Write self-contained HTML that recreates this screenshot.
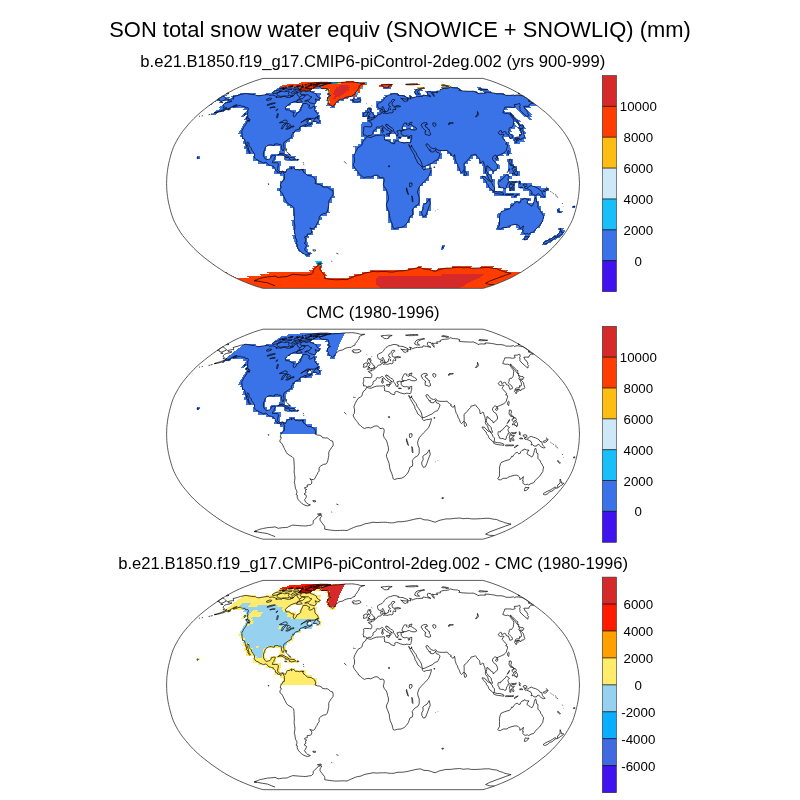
<!DOCTYPE html>
<html><head><meta charset="utf-8"><title>SON total snow water equiv</title>
<style>
html,body{margin:0;padding:0;background:#fff;}
body{width:800px;height:800px;overflow:hidden;}
svg{display:block;}
text{font-family:"Liberation Sans",Arial,Helvetica,sans-serif;fill:#000;text-anchor:middle;}
.t1{font-size:21.6px;}
.t2{font-size:16.2px;}
.cb{font-size:13.3px;}
.coast{fill:none;stroke:#000;stroke-width:0.7;stroke-linejoin:round;}
.frame{fill:none;stroke:#333;stroke-width:0.8;}
</style></head><body>
<svg width="800" height="800" viewBox="0 0 800 800">
<defs>
<path id="land" d="M227.5 99.7L230.0 99.2L232.4 98.7L233.6 99.1L233.6 98.1L233.0 96.7L237.9 95.4L240.4 94.5L243.1 94.0L245.9 93.4L247.4 93.7L248.9 94.0L250.2 94.2L251.5 94.5L253.4 94.6L255.3 94.7L256.2 95.3L257.5 95.6L258.8 95.9L261.1 95.4L263.1 95.1L265.0 94.8L268.1 94.3L269.4 95.4L271.2 95.2L273.0 95.0L274.2 95.5L275.3 96.0L277.1 96.8L275.8 97.3L278.0 97.2L280.1 97.1L281.4 97.6L282.5 96.4L284.5 96.5L285.8 96.9L287.1 97.4L290.2 97.3L291.6 96.5L293.8 95.4L294.8 93.8L296.9 92.8L297.2 94.3L297.6 95.4L298.4 95.9L299.2 96.5L299.2 97.6L302.3 95.2L305.2 95.2L304.8 96.5L302.3 98.7L299.1 98.9L297.4 100.1L296.4 101.0L293.6 101.8L290.3 103.3L287.7 105.1L285.4 107.5L285.9 109.9L288.3 109.9L289.8 110.5L291.8 112.0L294.2 112.2L293.2 114.8L293.4 116.3L294.2 117.0L296.0 115.4L297.0 112.9L299.6 111.7L300.7 110.5L301.0 108.1L302.4 105.7L303.2 103.4L305.0 103.5L306.7 103.5L308.3 104.8L309.7 105.1L308.7 107.5L309.7 108.3L311.9 107.7L314.1 105.8L314.8 108.3L314.9 110.5L315.7 112.0L317.5 113.6L318.3 115.4L318.1 116.7L316.8 116.9L314.4 118.3L311.8 118.4L308.4 118.3L306.9 118.3L305.5 119.4L302.8 121.3L300.8 122.6L303.5 120.8L306.4 119.7L308.4 119.6L308.3 120.4L306.9 121.1L307.2 122.4L307.2 123.4L308.6 123.9L310.0 124.1L312.0 122.6L311.7 123.6L310.4 124.5L307.5 125.5L305.1 126.8L304.5 126.2L306.5 124.5L304.1 124.9L304.0 125.4L301.7 126.2L300.1 126.7L299.3 128.1L299.7 129.0L298.0 129.5L295.3 130.3L295.0 130.7L294.4 132.0L293.3 132.8L293.0 132.0L293.0 133.5L291.5 135.2L291.2 135.4L291.5 136.5L291.4 137.6L290.0 138.2L288.3 139.3L287.0 140.2L285.7 141.1L284.3 142.0L283.5 143.7L283.8 146.3L284.1 148.5L283.4 150.5L282.5 150.6L282.0 149.3L281.3 147.2L281.7 145.6L280.5 144.2L278.8 144.6L277.9 143.8L276.2 143.9L274.5 144.1L274.4 145.4L273.1 145.4L271.6 144.9L269.4 144.9L268.1 145.4L265.5 147.2L264.6 149.5L263.6 152.2L263.3 154.4L263.7 156.3L264.7 158.4L265.7 159.2L266.3 159.7L268.5 159.2L269.9 158.9L270.7 158.0L271.3 156.1L273.6 155.4L275.2 155.4L275.4 156.3L274.3 158.0L273.9 159.7L273.1 160.6L272.3 162.7L273.8 162.8L275.5 162.7L277.2 162.8L278.5 163.9L278.0 166.5L277.6 168.4L277.7 169.7L278.8 171.0L279.9 171.8L281.6 171.3L282.8 171.0L284.4 172.2L285.2 173.0L286.2 171.2L286.8 169.7L287.7 168.9L289.8 168.7L291.0 167.5L291.9 167.3L291.2 169.1L292.0 168.8L293.2 167.5L294.9 168.8L295.4 169.7L297.7 169.6L299.4 170.1L301.1 169.5L302.3 169.5L302.4 170.4L303.3 171.0L303.5 172.3L305.0 173.0L306.1 174.3L307.7 175.6L310.0 175.7L311.7 176.2L313.4 177.3L314.6 178.2L315.7 181.1L315.1 183.4L317.6 184.3L319.1 184.3L322.0 185.7L322.6 186.9L325.4 187.2L327.1 187.0L328.9 188.2L330.6 189.8L332.6 190.3L333.2 192.8L333.0 195.1L331.3 197.1L330.3 198.8L329.2 200.3L328.7 202.3L328.8 204.9L328.4 206.8L327.9 209.4L327.0 212.0L325.9 213.3L323.7 213.5L322.1 214.4L321.0 214.9L319.5 216.3L319.0 217.9L319.2 220.2L317.9 221.8L317.0 223.8L316.0 225.3L314.9 227.7L313.6 228.8L311.9 228.7L309.8 227.9L311.3 229.6L311.8 230.9L311.5 232.9L310.2 233.8L307.1 234.2L307.4 236.1L304.6 236.8L305.1 238.3L306.7 238.7L305.5 239.6L305.9 241.9L304.0 243.2L306.3 244.7L306.4 245.7L305.6 247.6L304.6 248.9L305.3 250.8L306.1 251.3L306.4 251.8L307.8 253.2L310.4 254.1L309.4 254.6L307.7 255.1L306.1 254.8L303.8 253.9L301.6 252.4L299.9 250.8L298.3 248.9L297.1 246.4L297.4 244.4L296.1 243.8L296.9 241.9L296.8 240.0L295.6 238.0L295.1 235.5L294.9 233.5L294.3 231.8L294.6 229.6L295.0 227.0L294.5 223.8L294.1 221.2L294.3 218.6L294.3 215.9L294.1 213.3L294.0 210.1L293.6 207.4L292.1 205.9L289.7 204.6L287.6 203.3L286.3 201.6L285.0 199.0L283.7 196.4L282.7 194.1L281.6 192.3L280.0 191.2L279.9 189.3L281.0 187.8L281.4 186.7L280.3 186.4L280.5 184.7L281.1 183.3L281.3 182.4L282.5 181.7L282.8 180.1L284.2 179.9L284.5 178.2L284.3 176.2L284.4 174.5L283.9 174.0L283.5 172.6L282.2 171.7L281.2 172.7L281.1 173.8L280.4 173.5L279.3 172.7L278.1 172.6L277.3 172.3L277.5 171.4L276.3 170.9L275.2 170.4L275.3 168.9L274.4 168.0L273.4 166.6L273.4 166.1L271.7 166.0L270.6 165.4L269.0 165.2L268.1 164.4L266.6 162.6L265.3 162.3L263.5 163.0L261.4 162.0L260.0 161.5L258.0 160.1L256.1 159.4L255.1 158.4L254.2 156.8L254.7 155.4L254.2 153.5L252.9 151.5L251.6 149.9L251.4 148.2L250.1 146.9L249.1 145.6L249.0 143.0L247.4 142.0L246.9 143.7L247.6 145.6L248.1 146.9L248.5 148.9L249.1 150.9L249.7 151.9L250.3 153.2L249.7 153.6L249.1 152.7L248.0 151.1L248.0 149.3L246.5 147.9L246.1 147.2L246.8 146.3L245.8 144.3L245.4 142.4L245.1 141.0L244.5 139.1L242.5 138.5L242.4 137.2L242.1 135.5L242.1 134.2L241.8 132.0L241.9 130.8L243.1 128.8L243.5 127.5L245.5 124.9L246.5 123.2L247.5 120.6L249.1 120.8L249.0 121.7L250.0 119.8L249.6 119.2L248.8 118.2L247.5 117.3L247.9 115.4L247.4 114.2L247.9 112.7L247.6 111.7L248.4 108.7L247.7 107.5L245.8 108.1L245.0 106.5L242.9 106.3L241.4 106.0L240.3 105.3L238.1 105.7L237.0 106.3L235.0 106.9L233.0 107.1L235.1 105.7L237.2 104.8L234.8 105.3L231.7 106.9L229.8 108.1L226.8 109.3L222.7 110.9L219.2 112.0L216.6 112.6L214.6 112.8L217.6 111.7L220.1 111.1L224.4 109.3L227.0 107.8L225.3 108.1L223.0 107.8L224.3 106.5L223.0 105.7L223.6 104.5L224.8 103.3L226.8 102.6L229.6 102.1L232.0 101.0L230.7 101.0L228.5 101.0L228.2 100.2Z M319.4 86.4L322.0 85.6L324.5 84.8L327.6 83.7L329.6 83.4L331.7 83.1L333.1 83.0L334.5 82.9L336.0 82.8L337.4 82.8L338.8 82.7L340.3 82.6L341.7 82.4L343.2 82.3L344.6 82.1L346.1 82.0L347.4 82.0L348.8 82.0L350.1 81.9L351.5 81.9L352.9 81.9L354.1 82.1L355.4 82.3L356.7 82.5L358.0 82.7L359.2 83.1L360.5 83.5L361.9 83.5L363.3 83.5L364.7 83.5L362.8 84.1L360.9 84.8L359.1 86.1L359.0 88.1L357.6 89.6L356.8 91.1L355.3 92.7L355.0 94.3L352.3 95.4L351.2 96.5L349.5 96.6L347.8 96.8L345.0 97.6L342.9 99.1L340.1 99.6L338.1 100.4L336.7 102.1L334.8 103.9L333.7 106.0L332.2 106.4L331.1 105.4L329.1 104.7L328.5 102.7L327.9 101.0L327.3 99.3L327.9 97.0L330.6 95.6L328.3 94.3L329.2 92.7L328.8 91.1L328.4 89.3L326.6 88.6L324.7 88.6L322.8 88.6L320.9 88.1L320.1 87.3Z M394.0 93.6L395.8 93.8L398.5 94.5L397.8 95.2L400.4 95.5L403.0 95.7L404.9 96.5L406.8 97.3L408.2 98.1L407.8 98.9L405.7 99.1L403.0 98.7L401.2 98.5L400.7 98.1L402.9 99.8L403.5 101.0L405.6 101.6L406.3 101.0L408.0 100.8L407.5 99.3L409.4 98.7L410.9 99.1L410.4 97.0L409.4 96.4L411.8 97.0L412.7 98.3L413.6 97.4L415.5 96.9L417.4 96.5L418.8 96.7L421.1 96.3L422.5 96.5L423.0 95.0L424.8 95.3L426.6 95.6L429.0 96.1L430.6 96.7L430.5 95.9L428.4 95.2L427.4 93.8L427.5 91.8L428.4 91.4L430.9 91.8L432.0 93.8L433.6 95.9L434.2 96.5L434.0 94.8L432.1 92.2L434.1 92.7L435.5 92.4L437.7 92.7L436.5 91.1L438.5 91.0L440.5 90.8L440.2 89.6L441.6 89.1L443.0 88.6L444.4 88.5L445.8 88.4L447.2 88.3L448.5 88.1L449.4 87.5L450.2 86.9L453.4 87.8L455.4 87.9L457.5 88.1L460.0 89.1L458.8 90.3L461.7 90.8L463.9 91.0L466.1 91.1L468.2 91.2L470.3 91.3L471.7 91.2L473.2 91.1L477.4 92.9L478.0 93.8L479.8 93.2L482.1 93.1L483.8 93.2L485.5 93.2L484.9 92.2L486.9 92.2L489.0 92.3L491.6 92.7L494.2 93.1L497.3 93.9L499.1 93.8L500.9 93.8L504.2 94.4L505.9 95.3L507.9 95.3L509.8 95.4L512.0 95.2L513.5 94.8L514.8 95.9L515.9 95.0L518.4 95.0L520.7 95.5L523.1 95.9L526.5 98.1L529.8 100.4L529.3 101.0L528.1 100.8L531.7 102.4L533.5 103.3L531.2 103.3L530.1 104.1L529.0 105.1L529.0 106.3L527.0 106.3L525.0 106.3L523.8 106.4L524.7 108.1L524.9 108.9L527.1 110.5L526.8 111.1L528.0 112.3L527.5 113.6L528.7 114.8L528.1 115.7L527.9 117.3L524.8 114.8L522.0 112.3L519.9 109.9L520.0 108.3L519.6 106.3L520.2 105.7L519.9 103.9L519.6 103.3L518.4 103.8L517.2 104.3L514.3 104.5L515.2 106.9L512.6 107.5L509.8 107.0L507.3 107.0L504.8 107.1L504.3 108.9L503.5 110.5L502.8 112.7L505.8 113.6L507.5 113.3L510.3 114.5L511.3 116.7L512.9 118.6L513.8 120.4L513.6 122.4L513.3 124.9L512.9 125.8L511.5 127.7L510.1 127.3L509.4 128.2L509.0 129.4L509.5 130.3L508.0 131.7L509.7 133.2L511.7 135.2L512.6 137.0L512.4 137.7L511.0 138.2L509.8 138.5L509.2 136.5L508.4 134.3L506.7 134.2L506.0 133.2L505.8 132.0L504.5 131.5L502.5 132.5L501.9 132.9L501.3 130.7L500.4 130.3L499.4 131.6L498.1 132.6L498.8 133.7L500.4 134.8L502.0 134.2L504.1 134.7L503.0 135.9L502.1 137.6L503.6 139.1L505.1 141.1L506.6 142.4L506.8 143.2L505.6 143.9L507.4 144.6L507.5 146.6L506.8 148.2L506.4 150.2L505.4 151.5L504.0 152.8L501.9 153.8L500.7 154.4L498.3 155.4L497.0 156.1L497.2 157.0L496.3 155.4L494.9 155.1L493.4 156.3L492.5 158.0L492.5 159.3L494.2 161.5L496.1 162.8L497.2 165.2L497.6 167.1L497.3 168.6L495.5 169.9L494.9 170.9L493.2 172.1L492.9 170.4L492.0 169.9L490.5 169.1L489.8 167.6L488.0 166.9L487.8 165.8L486.8 166.0L486.8 167.8L486.2 169.7L486.4 171.4L487.5 172.3L488.0 174.0L489.1 174.5L490.3 175.6L491.3 176.9L491.5 178.8L492.2 180.1L492.5 181.6L491.6 181.6L489.4 179.9L488.4 178.2L487.9 176.2L487.1 174.7L485.6 173.0L485.3 171.7L485.6 169.7L485.2 167.8L484.7 165.4L483.9 163.9L483.7 161.9L482.6 161.3L481.8 162.2L481.1 162.8L479.9 162.6L479.9 160.6L479.4 158.9L478.4 157.6L476.8 156.2L476.3 155.0L475.4 154.0L474.5 154.4L472.9 155.0L471.8 155.1L470.8 155.5L470.7 156.7L469.9 157.5L468.9 158.3L467.4 160.4L466.2 161.8L465.1 162.6L464.0 163.5L464.1 165.8L464.2 167.8L464.1 170.0L463.2 171.3L462.4 171.8L461.6 172.9L460.4 171.7L459.4 168.7L458.1 166.5L457.4 164.1L456.3 162.6L455.5 160.0L455.1 158.4L454.9 156.1L454.5 154.5L454.0 156.1L452.6 156.3L450.4 154.5L451.5 154.1L449.7 152.8L448.5 152.2L447.8 151.0L447.1 150.3L444.9 150.6L442.2 150.6L439.9 150.5L437.6 150.1L436.3 148.5L435.5 148.0L433.8 148.8L431.9 148.2L430.1 147.1L429.1 145.6L428.0 144.1L426.8 143.8L425.9 144.3L426.0 145.1L426.9 146.7L428.3 148.5L428.9 149.3L429.4 150.6L430.1 149.4L430.6 150.6L430.5 151.6L432.3 152.0L433.9 151.8L435.4 149.9L435.8 149.2L435.9 150.9L436.7 152.2L438.6 152.7L440.1 154.1L439.2 156.7L438.2 158.7L437.4 160.0L435.8 160.4L434.1 161.4L432.2 163.1L429.8 164.1L427.6 165.2L424.2 166.7L422.5 166.9L421.9 164.5L421.4 162.2L420.2 160.0L418.6 157.6L417.0 155.4L416.1 152.8L414.6 150.9L413.0 148.5L411.8 146.8L411.6 145.0L411.0 147.2L409.5 145.8L408.9 144.5L408.7 144.9L409.5 146.7L410.8 148.9L412.7 152.2L414.6 155.4L415.1 158.0L416.5 160.0L417.8 163.2L419.6 164.5L422.2 167.1L422.4 168.4L423.8 169.9L426.6 168.8L428.9 168.7L431.4 167.9L431.2 169.7L430.2 173.0L428.5 176.9L425.7 180.1L423.5 182.1L421.2 184.7L419.4 186.7L418.2 189.5L417.6 191.9L418.1 194.5L419.2 197.3L419.2 202.3L417.8 204.9L414.8 206.6L413.0 208.8L412.2 210.1L412.8 212.7L412.4 215.3L409.8 216.6L409.3 218.6L408.3 221.2L406.5 223.8L404.1 226.1L401.2 227.5L397.4 227.8L394.6 228.7L393.0 227.9L392.7 225.7L391.7 222.5L390.2 219.2L389.5 215.9L389.2 212.7L387.4 208.1L386.4 205.5L386.6 203.6L388.4 199.7L388.4 196.4L387.6 193.8L387.0 191.2L386.2 189.3L384.2 186.7L383.3 184.3L383.9 182.1L384.2 179.8L383.9 178.2L382.7 177.4L381.0 177.7L379.9 177.8L378.7 176.0L377.0 175.1L374.7 175.3L373.0 176.1L370.7 177.2L369.0 176.8L366.7 176.9L364.4 177.7L362.5 176.6L360.4 174.7L358.7 173.5L357.8 171.7L356.2 169.7L354.8 168.0L353.9 166.5L353.1 164.3L354.3 162.6L354.6 159.3L354.4 158.0L353.9 156.1L355.1 152.8L356.5 150.2L358.0 147.6L360.3 146.3L362.0 145.0L362.4 143.0L363.2 140.8L365.4 139.1L366.5 136.8L367.3 136.7L369.8 137.4L371.4 137.4L373.0 136.5L376.2 135.4L379.4 135.2L382.1 135.2L383.7 134.8L384.8 135.2L384.1 136.5L384.9 138.5L384.0 139.3L385.2 140.2L387.2 140.6L389.7 141.3L390.3 142.5L392.8 143.6L394.4 143.8L394.9 143.0L394.8 141.3L396.4 140.6L398.1 141.0L400.4 142.1L403.2 142.8L404.8 143.0L406.4 142.4L408.4 142.6L410.3 142.8L410.9 142.0L411.1 140.4L411.7 138.5L411.7 136.5L411.9 135.6L410.6 135.6L409.6 136.3L408.0 136.4L406.3 135.5L405.8 136.1L404.2 135.9L403.0 135.5L402.2 135.0L401.0 133.3L401.4 132.0L400.7 131.3L402.0 130.8L403.6 130.7L403.7 129.8L406.1 129.8L408.0 128.8L409.6 128.8L411.3 129.7L413.0 130.0L415.1 130.0L416.6 129.3L416.2 127.9L414.5 126.8L412.7 125.7L411.3 124.9L411.3 123.6L412.1 122.2L411.1 122.4L409.2 123.0L408.8 124.1L410.5 124.5L409.3 124.9L408.1 125.7L407.4 124.9L406.3 124.3L407.2 123.5L405.6 123.0L404.3 123.1L403.5 124.5L402.7 126.2L402.1 127.5L402.0 128.4L402.6 129.4L403.5 129.8L402.4 130.0L401.5 130.6L400.7 131.0L400.4 130.4L398.8 130.3L398.2 131.3L397.1 130.8L397.2 132.2L398.0 133.3L398.6 134.2L397.6 134.6L397.9 135.9L397.0 135.9L396.3 135.5L395.8 134.3L395.4 133.3L394.4 132.0L393.5 130.7L393.4 129.1L392.3 128.1L390.7 127.2L389.0 126.2L388.2 124.8L387.0 125.0L387.0 124.1L385.7 124.5L385.7 125.8L387.0 126.7L387.8 128.2L389.7 128.9L390.9 130.0L392.5 131.1L390.9 130.8L390.6 131.7L391.2 132.6L390.2 133.9L389.7 133.8L390.0 132.6L389.5 131.3L388.3 130.4L386.6 129.7L385.6 128.8L384.5 128.1L383.7 126.8L383.1 126.1L382.1 125.7L380.8 126.4L379.8 127.2L378.2 127.0L377.1 126.8L376.2 127.5L376.3 128.8L375.3 129.7L373.8 130.3L372.8 132.0L373.2 133.0L372.3 134.2L370.9 135.5L368.2 135.6L367.2 136.4L366.2 135.7L365.5 135.0L363.6 135.2L363.6 133.3L362.9 132.9L363.7 130.7L363.8 128.8L363.4 127.5L364.7 126.6L366.8 126.7L369.4 126.8L371.1 127.0L371.8 125.5L371.9 123.9L370.8 122.2L368.7 121.3L368.3 120.6L370.0 120.1L371.4 120.3L371.2 118.9L371.8 119.3L373.2 119.2L374.5 118.4L374.7 117.4L376.4 116.8L377.1 116.0L377.7 114.8L378.8 114.3L380.0 114.2L381.2 113.8L381.5 112.9L380.8 111.7L380.7 109.9L382.2 109.3L382.8 109.0L382.7 110.5L383.2 110.9L382.4 112.0L382.5 112.6L383.5 113.2L383.6 113.6L384.8 113.2L386.0 113.1L386.8 113.7L388.4 113.2L390.3 112.6L391.0 113.1L392.0 112.9L393.1 112.1L392.9 110.5L393.2 109.3L394.1 109.0L394.9 109.9L395.7 109.9L395.7 108.3L394.8 107.8L394.7 107.2L396.0 106.9L398.8 106.9L400.7 106.4L399.5 106.0L398.5 105.6L396.7 105.8L395.8 106.1L394.1 106.4L392.6 105.7L392.2 104.5L392.0 103.0L392.7 102.1L394.4 100.6L395.1 100.1L394.2 99.6L392.4 99.5L391.7 100.4L391.5 101.6L390.3 102.4L389.1 103.3L388.5 104.5L388.6 105.4L389.9 106.0L390.4 106.9L389.6 107.2L388.6 108.1L388.5 109.3L388.2 110.7L386.8 111.1L386.6 111.8L385.4 111.8L385.0 110.9L384.2 109.3L383.7 108.1L383.2 107.3L382.7 106.5L382.5 107.3L381.4 108.1L380.0 108.7L378.4 107.9L377.9 106.9L377.6 105.7L377.5 104.1L378.4 103.2L380.1 102.4L381.8 101.7L382.6 100.8L383.7 99.8L384.1 98.7L385.3 97.6L386.0 96.7L387.6 95.9L388.7 95.0L390.7 94.6L392.2 94.0Z M222.9 95.9L224.2 96.7L224.8 97.4L225.5 98.1L226.6 99.2L222.2 101.1L221.2 101.2L219.3 100.6L219.1 99.3L217.0 99.8Z M535.6 197.3L536.4 199.7L536.4 202.0L538.0 202.9L537.9 204.9L537.9 207.5L538.8 208.7L540.2 209.7L540.8 212.0L542.0 213.3L542.4 214.6L543.7 216.2L543.1 218.6L542.8 220.8L541.2 223.1L539.6 225.5L537.4 227.4L535.5 229.4L533.6 232.0L531.0 232.7L528.4 234.3L527.5 233.3L525.6 233.9L523.8 233.3L522.8 232.2L523.3 230.0L522.4 229.8L522.9 228.7L523.4 225.8L521.7 227.7L519.8 228.8L519.9 227.4L519.3 226.1L518.4 225.2L516.5 224.4L514.3 224.5L510.7 225.5L508.1 226.4L507.1 227.5L503.3 227.5L500.4 229.1L498.5 228.8L497.7 228.1L499.5 225.1L499.5 222.9L499.5 219.9L499.4 217.3L499.8 215.3L500.6 212.7L501.0 211.8L502.8 211.0L504.7 210.2L507.1 209.4L509.4 208.9L511.1 206.8L511.5 205.5L512.8 205.9L513.6 204.2L515.6 202.3L517.4 201.5L518.6 202.9L520.1 202.7L520.9 200.7L522.0 199.5L524.0 199.0L524.3 198.1L526.8 199.3L529.0 199.3L527.7 201.0L526.9 202.9L528.4 204.0L530.4 205.3L531.9 206.3L533.2 204.2L534.0 201.6L534.4 199.7L535.2 197.7Z M525.4 236.4L527.0 236.9L529.0 236.6L527.9 238.3L526.1 239.7L524.4 240.0L524.5 238.7Z M560.2 228.2L560.8 230.0L561.5 231.1L561.2 232.3L563.3 232.3L563.8 232.5L561.8 234.4L560.7 234.7L559.7 235.8L556.7 237.5L556.4 237.1L557.9 235.7L557.4 234.6L559.0 233.5L560.2 231.6L560.0 229.4Z M555.1 236.1L556.1 237.0L553.2 239.3L551.9 240.4L549.8 241.0L547.6 243.0L545.5 243.9L544.3 243.9L543.1 243.2L544.7 241.9L547.2 240.6L550.4 239.2L552.6 237.8Z M429.2 199.0L430.3 203.6L429.4 205.5L428.2 208.8L426.8 212.7L425.5 215.9L423.4 216.6L421.9 214.0L421.7 211.4L423.2 208.8L422.8 205.5L424.6 204.0L426.9 202.7L428.2 200.7Z M464.3 170.6L465.9 172.3L466.7 174.3L465.7 175.6L464.7 175.6L464.2 173.6L464.2 171.7Z M368.2 107.9L370.2 107.9L369.3 109.2L371.1 109.0L370.9 110.5L369.9 111.1L371.5 112.0L372.8 113.6L373.3 114.8L374.7 115.2L374.5 116.8L373.5 116.8L374.4 117.2L373.3 117.7L371.0 117.8L369.5 118.2L367.3 118.6L368.6 117.0L370.0 116.8L367.9 116.3L368.9 115.0L369.9 114.4L370.1 113.3L369.6 112.6L368.2 112.6L368.4 111.6L367.3 110.5L367.8 109.3Z M367.1 112.1L367.7 113.1L367.1 114.4L366.8 115.8L364.8 116.4L363.2 116.4L363.8 114.8L363.4 113.3L365.0 112.8L365.4 112.1Z M353.7 98.8L355.8 99.3L357.5 98.9L359.3 98.7L360.5 99.3L361.1 100.4L359.8 101.2L357.1 102.1L354.9 102.0L353.2 101.6L353.8 100.6L352.1 100.4L352.4 99.5Z M380.9 85.2L383.0 84.8L384.4 84.7L385.8 84.6L387.2 84.5L388.5 84.3L390.4 84.5L392.2 84.6L390.3 85.4L388.3 86.1L389.3 87.1L388.0 87.5L386.5 87.9L384.2 87.6L382.9 86.4Z M405.5 84.3L406.8 84.2L408.1 84.0L409.7 83.9L411.2 83.8L412.7 83.7L414.2 83.7L415.6 83.7L417.0 83.7L418.2 84.3L416.9 84.5L415.6 84.6L414.3 84.8L412.9 84.8L411.5 84.8L410.1 84.9L408.3 84.8L406.4 84.7Z M414.7 93.2L416.7 94.1L419.6 94.2L417.6 92.7L417.3 91.3L418.9 90.1L420.0 89.5L421.1 88.9L422.9 88.5L424.7 88.1L423.9 87.6L422.7 87.9L421.4 88.2L419.7 88.5L418.0 88.8L416.0 89.9L415.1 91.6Z M441.6 85.5L442.8 84.8L445.6 85.2L448.6 85.9L448.6 86.4L447.3 86.5L445.9 86.6L445.5 85.7L444.1 85.8L442.8 85.9Z M478.8 89.6L479.5 88.6L481.3 88.8L483.2 89.0L485.4 89.2L487.7 89.4L486.1 89.8L484.5 89.8L483.0 89.8L480.9 90.0Z M518.2 93.6L518.7 93.2L519.8 93.9Z M227.3 93.2L229.0 93.4L227.9 93.9L226.2 93.9Z M510.3 113.2L512.2 114.8L514.6 117.3L516.8 119.4L517.8 119.8L517.7 121.7L519.1 123.2L518.1 123.6L516.3 121.1L514.4 118.6L512.1 116.0L510.7 114.2Z M518.4 124.3L521.1 125.8L523.0 125.8L524.1 127.1L522.8 127.6L522.8 128.8L520.6 128.1L520.1 129.4L518.9 128.1L518.9 127.1L519.7 126.8Z M521.3 129.5L523.5 132.0L523.8 133.5L524.2 135.2L524.8 136.9L524.2 137.8L523.1 138.2L521.4 138.4L521.3 138.7L520.9 139.8L519.9 139.4L519.3 138.4L517.7 138.6L516.5 138.9L515.2 139.1L514.9 138.5L516.2 137.3L517.5 137.0L519.6 136.9L519.5 135.0L519.9 134.6L520.2 135.5L521.3 134.8L521.5 133.3L521.1 131.6L520.5 130.6L520.4 129.8Z M515.3 139.3L516.4 139.8L516.9 141.1L516.6 142.6L515.9 142.8L515.2 141.3L514.4 140.4L514.7 139.7Z M516.8 139.1L518.6 138.7L519.3 139.4L518.9 140.0L518.0 140.7L517.1 139.9Z M508.5 150.5L509.1 150.9L509.0 152.8L508.6 154.8L507.7 153.7L507.5 152.4L508.0 150.9Z M495.6 158.3L496.4 157.4L497.9 157.4L497.7 158.9L496.7 159.7L495.7 159.2Z M509.2 159.3L511.0 159.3L511.5 161.3L510.9 162.8L511.4 164.9L512.9 165.4L514.2 166.5L514.2 167.0L513.0 166.5L512.3 165.4L511.0 165.7L510.1 164.9L510.3 164.1L509.5 163.9L508.9 162.3L509.3 161.3Z M516.3 170.6L517.4 172.3L517.7 174.3L517.2 175.2L516.6 176.0L516.3 174.5L514.9 174.9L514.8 173.6L513.7 173.6L512.6 174.3L512.5 173.0L513.6 172.2L514.7 172.5L515.6 171.7Z M513.7 167.1L515.6 167.1L516.4 168.8L515.7 170.1L515.0 169.3L514.6 170.4L513.8 171.3L512.9 170.6L512.2 169.7L512.1 168.0L513.2 168.4Z M507.0 172.5L507.8 171.4L508.8 170.0L509.4 168.7L509.2 170.0L508.2 171.7L507.3 172.6Z M498.0 181.4L498.7 180.8L500.3 181.3L500.7 180.0L502.5 179.1L503.6 177.5L505.3 176.2L506.5 174.4L507.5 174.9L508.1 176.1L509.5 176.6L508.4 177.8L507.9 178.7L508.3 180.4L509.5 182.1L508.1 182.4L507.8 184.1L506.6 185.4L506.3 187.3L505.9 188.6L504.4 188.6L503.1 187.7L501.4 187.8L499.3 187.2L499.1 185.4L498.0 184.1L498.0 182.7Z M482.1 176.1L484.7 176.6L485.6 177.9L487.3 179.2L488.2 180.5L489.6 180.8L491.1 182.4L492.1 183.4L492.8 185.4L494.5 187.3L494.4 189.3L494.1 191.0L492.8 191.0L492.1 189.9L490.2 188.6L488.8 186.9L488.0 184.7L486.5 183.0L486.2 181.2L484.8 180.1L483.6 178.6L482.3 176.9Z M493.4 192.3L494.4 191.1L497.2 191.9L499.8 191.9L501.9 192.5L503.9 193.4L503.8 194.6L501.6 194.3L498.8 193.9L496.5 193.6L494.8 193.0Z M510.4 182.4L511.5 181.7L514.1 182.1L516.3 181.3L515.8 182.7L514.1 182.9L511.8 182.9L510.8 184.4L512.3 184.7L514.4 184.6L513.8 185.7L512.5 186.0L513.4 188.0L514.1 189.3L513.3 190.3L512.5 189.5L511.7 187.3L511.0 187.3L510.9 190.6L509.8 190.6L509.9 188.0L509.3 186.9L509.8 185.0Z M523.2 184.4L525.0 183.9L526.7 184.4L526.8 186.7L527.7 187.7L529.5 186.3L531.2 185.5L533.5 186.5L535.2 186.9L537.5 188.0L539.1 189.0L540.0 190.6L541.9 191.2L542.1 192.5L542.5 194.1L543.8 195.5L545.1 196.8L543.6 197.1L541.4 196.4L540.4 195.1L538.8 193.6L537.0 194.2L536.4 195.4L534.1 195.2L532.5 193.9L531.0 194.2L531.8 192.5L531.0 190.6L528.8 189.4L526.5 188.5L525.2 188.6L524.3 187.2L526.0 186.7L524.3 186.0L523.1 185.2Z M514.0 196.8L515.8 195.1L518.2 194.3L517.5 195.1L515.7 196.2L514.5 196.8Z M505.6 194.3L507.3 194.1L509.0 194.3L511.3 194.2L513.6 194.1L513.6 194.7L511.3 195.0L509.0 194.9L506.7 195.1L505.5 195.0Z M519.2 180.8L519.8 181.4L520.6 182.1L519.8 183.0L520.3 184.3L519.5 183.8L519.3 182.1Z M519.7 187.3L522.0 187.2L522.9 188.0L521.4 188.0L519.7 188.0Z M543.0 190.7L544.8 189.9L546.6 188.9L547.5 189.0L547.1 190.3L545.3 191.5L543.6 191.5Z M277.7 154.9L280.0 153.5L282.3 153.3L284.4 154.2L286.5 155.3L288.0 156.4L289.4 157.1L288.5 157.5L285.5 157.5L286.1 156.6L284.7 156.1L283.1 155.1L281.0 154.2L279.3 154.6Z M289.0 159.2L290.4 157.5L292.2 157.6L294.1 157.8L295.8 159.2L294.5 159.6L292.8 159.7L291.9 160.4L290.9 159.7L289.4 159.7Z M284.6 159.4L286.2 159.4L286.9 160.0L285.4 160.2Z M297.1 159.3L298.8 159.4L298.6 160.0L297.0 160.0Z M318.4 116.5L317.3 118.6L319.1 119.2L319.7 120.4L319.7 121.7L318.6 122.7L317.2 122.4L316.4 121.6L313.1 121.6L314.4 119.8L316.2 117.8Z M314.2 103.9L312.2 103.3L309.8 102.8L309.0 101.8L307.7 101.0L304.7 101.2L307.0 100.1L309.3 99.8L310.3 98.1L311.9 97.0L310.1 96.5L308.3 94.8L305.3 94.9L302.9 94.8L300.9 94.3L300.1 93.8L300.6 92.7L302.4 91.1L305.5 90.8L305.7 91.8L309.3 90.9L311.0 91.7L312.9 92.4L314.7 93.2L316.7 94.5L316.7 95.9L318.7 97.6L320.4 98.5L317.8 100.1L316.8 99.5L315.0 98.9L316.1 101.0L316.2 102.4Z M297.4 100.2L300.3 99.6L301.5 101.1L302.2 101.8L299.5 102.3L297.5 102.5L296.2 101.9L297.5 101.2Z M276.8 94.6L278.2 95.7L279.5 96.0L280.9 96.4L282.7 96.2L284.5 96.0L286.2 96.0L287.8 96.0L289.6 95.0L288.3 93.8L289.4 91.8L287.5 91.4L284.6 91.8L283.5 91.5L282.3 91.1L278.7 91.8L277.5 93.2Z M272.1 92.7L273.0 93.6L275.9 93.2L279.5 92.2L281.5 91.1L280.6 90.3L278.1 90.1L275.2 90.8Z M301.7 89.9L303.1 90.0L304.6 90.1L306.5 90.1L308.4 90.1L310.9 90.0L311.8 89.0L310.3 88.9L308.9 88.8L307.4 88.4L305.8 88.1L303.7 88.0L302.3 87.9L300.9 87.8L301.0 89.1Z M305.8 88.1L307.7 88.1L309.5 88.2L311.1 88.3L312.7 88.4L315.2 87.3L317.8 86.1L320.8 85.7L322.8 85.1L324.7 84.6L326.6 84.0L328.5 83.5L331.0 82.7L329.6 82.6L328.3 82.4L326.9 82.3L325.4 82.3L323.9 82.3L322.4 82.3L320.9 82.2L319.4 82.4L317.8 82.5L316.3 82.7L314.7 82.8L312.5 83.2L310.2 83.7L311.5 84.3L311.6 85.2L309.1 86.4L307.6 87.1Z M304.6 84.8L307.1 84.2L309.6 83.7L311.0 84.5L310.0 85.7L306.9 86.4L305.8 85.5Z M284.0 88.6L285.7 88.4L287.4 88.3L288.7 89.1L290.5 88.9L292.3 88.7L291.5 89.6L289.4 89.8L287.6 90.0L285.8 90.2L284.2 89.6L282.7 89.3Z M298.2 90.6L300.9 90.6L301.6 91.1L299.7 91.9L297.0 92.7L296.6 91.8Z M292.0 91.6L295.0 90.7L296.5 91.1L295.0 92.7L292.8 93.3L290.8 92.9Z M294.5 88.1L296.1 88.0L297.6 88.0L298.8 88.6L296.9 89.6L294.2 89.6L293.3 89.1Z M290.5 95.4L292.9 95.0L293.4 95.9L292.1 96.5L290.5 96.4Z M246.0 117.5L247.9 118.0L249.0 119.4L248.8 120.6L247.5 120.4L246.6 119.3Z M228.5 109.0L230.8 108.8L229.7 109.6L227.8 110.1Z M244.7 113.4L245.7 113.6L244.6 115.7L244.0 114.8Z M221.4 102.0L223.1 102.4L222.2 102.7L220.7 102.4Z M312.8 249.8L315.3 249.9L316.0 250.5L314.8 251.1L313.2 250.8Z M442.1 246.7L443.7 247.0L443.2 247.7L441.9 247.7Z M386.3 133.9L389.5 133.7L389.3 135.2L389.1 135.6L387.5 135.0L386.4 134.5Z M381.7 130.0L383.1 129.9L383.3 132.0L382.6 132.6L381.9 132.2Z M382.1 128.0L382.8 127.5L382.9 128.8L382.7 129.5L382.1 129.0Z M398.5 137.2L400.0 137.3L401.4 137.6L400.0 137.9L398.5 137.6Z M407.9 137.8L408.6 137.4L410.2 137.0L409.8 137.8L408.7 138.4Z M197.3 157.1L198.3 157.6L198.2 158.3L197.3 158.7L197.1 157.9Z M557.7 209.7L559.1 210.7L560.4 212.3L559.8 212.6L558.4 211.5L557.5 210.4Z M573.6 206.2L575.0 206.1L574.8 207.0L573.5 207.0Z M433.8 167.0L435.0 167.0L435.0 167.3L433.8 167.3Z M302.5 169.5L303.4 169.3L303.4 170.2L302.5 170.2Z M383.7 111.3L384.9 111.1L385.0 112.1L384.0 112.3Z M390.0 108.8L390.8 108.9L390.6 109.8L390.0 109.6Z M308.7 118.7L311.1 119.2L311.1 119.7L309.5 119.4Z M279.4 88.6L281.9 87.9L284.3 87.3L286.8 87.1L285.8 88.1L283.0 88.8L281.4 88.8L279.9 88.8Z M289.4 86.3L291.2 86.1L292.9 85.9L292.1 86.8L289.5 87.3L288.2 86.9Z M295.9 86.1L298.7 85.4L300.5 85.9L299.1 86.8L297.7 86.7L296.3 86.7Z M301.6 85.9L303.1 85.9L302.4 86.8L300.9 86.8Z M290.6 86.0L293.2 85.8L292.7 86.3L290.4 86.4Z M302.3 84.6L303.2 84.8L302.1 85.0Z M302.0 86.8L303.8 86.9L302.7 87.2Z M305.1 87.0L306.5 87.1L305.5 87.4Z M294.9 86.9L295.3 87.2L294.5 87.5Z M299.0 89.1L301.1 89.0L300.8 89.6L298.9 89.9Z M282.1 88.6L283.5 88.7L282.2 89.1Z M297.5 86.6L298.5 86.7L297.5 87.0Z M317.5 263.3L319.1 263.0L320.8 262.7L321.5 263.4L318.7 264.0Z"/>
<path id="lakes" d="M421.6 124.0L423.4 123.0L425.4 122.6L427.0 123.0L427.4 124.5L425.6 124.5L425.6 125.5L424.9 125.5L426.0 127.2L427.7 127.9L428.1 129.4L429.8 130.0L429.0 131.3L430.2 132.6L430.6 134.8L428.8 135.5L426.9 134.8L425.4 134.5L425.1 133.3L425.2 131.0L426.1 131.0L424.8 130.0L423.7 128.8L422.4 127.5L422.1 126.2L421.1 125.5Z M432.7 123.2L434.0 122.7L435.8 123.6L435.9 125.5L434.6 126.6L433.1 125.5Z M448.3 124.3L449.3 122.7L451.4 123.0L453.4 122.9L451.5 123.2L449.5 123.2L449.1 124.9Z M475.4 116.7L476.6 115.4L477.5 113.8L477.4 111.5L477.9 112.3L478.4 114.5L477.5 116.0L476.1 116.9Z M409.7 183.0L412.0 183.0L412.0 185.4L410.8 186.8L409.7 186.7L409.4 184.7Z M406.6 187.8L407.1 189.9L407.9 192.5L408.4 194.7L407.8 193.8L406.8 191.2L406.3 188.9Z M411.8 195.8L412.6 197.7L412.8 200.3L412.9 202.0L412.2 201.0L412.0 198.4Z M388.4 165.8L389.5 165.8L389.5 166.9L388.7 166.9Z M279.4 122.7L282.7 121.1L284.7 120.1L286.6 120.2L287.3 121.3L286.8 122.9L284.4 123.0L283.1 122.4L280.9 122.9Z M281.2 128.8L282.5 128.8L283.5 126.8L285.1 124.9L286.0 123.9L284.5 123.9L282.5 125.5L281.8 127.5Z M286.7 123.6L289.2 123.6L290.7 125.2L288.7 126.2L287.2 127.3L286.7 126.2L287.5 124.6Z M285.7 129.0L287.6 129.3L290.7 127.9L290.6 127.6L288.6 127.9L286.3 128.5Z M290.2 127.1L292.0 127.1L293.9 126.7L294.0 125.9L292.3 126.2L290.7 126.6Z M277.4 113.8L278.4 113.8L277.6 117.3L277.2 118.0L276.6 117.9L276.9 116.0Z M266.8 99.1L269.8 98.1L271.7 98.4L271.1 99.5L268.0 100.4L266.5 100.2Z M266.9 105.1L269.9 103.7L273.2 103.0L275.4 103.0L272.8 103.9L270.3 104.7L268.0 105.3Z M269.8 107.8L272.7 106.9L275.3 107.1L272.2 107.5L269.9 108.1Z M275.8 110.5L277.8 108.9L277.4 109.9L276.1 110.7Z M214.0 112.8L216.3 112.4 M210.6 114.2L212.6 113.7 M208.5 114.8L210.0 114.3 M201.7 115.9L202.9 115.7 M199.0 116.4L200.0 116.2 M285.3 148.5L286.8 148.9L286.0 150.9L285.3 148.5 M286.4 151.5L287.9 152.8L289.4 154.1L290.9 155.7L288.7 153.6 M303.3 162.2L303.5 163.3 M303.7 164.3L303.8 165.2 M268.1 183.8L268.6 184.6L268.9 183.9L268.1 183.8 M336.3 253.2L338.4 254.0 M331.3 261.2L332.2 261.4 M366.5 103.7L367.1 104.1 M371.6 105.6L372.0 106.3 M370.0 107.3L370.5 107.6 M550.4 191.2L551.5 192.3 M552.6 192.9L553.7 193.8 M555.3 194.2L556.4 195.1 M555.5 195.8L556.6 196.3 M557.1 196.8L558.1 197.3 M562.3 203.2L562.6 204.0 M563.2 206.3L563.4 206.7 M545.9 186.9L547.2 187.7L548.3 189.3 M311.5 84.3L313.1 84.4L314.6 84.5L316.2 84.6L317.9 84.3L319.6 84.1L318.0 84.1L316.4 84.2L314.7 84.2L313.1 84.3 M311.2 85.9L312.9 86.0L314.5 86.1L316.2 85.9L317.9 85.7L316.3 85.7L314.6 85.8L312.9 85.8 M308.3 85.2L310.0 85.3L311.7 85.4L310.0 85.3 M316.0 83.5L317.4 83.5L318.7 83.6L320.1 83.6L321.4 83.6L322.8 83.7L324.3 83.5L325.9 83.4L327.4 83.2L326.0 83.3L324.5 83.3L323.1 83.3L321.7 83.4L320.3 83.4L318.9 83.4L317.4 83.5 M313.1 87.6L314.4 87.8 M254.1 280.8L255.5 280.4L256.5 281.0L254.1 280.8 M353.1 146.3L354.7 146.8 M355.5 146.7L355.9 147.2 M435.2 210.7L435.7 211.1 M437.7 209.6L438.0 210.0 M518.1 93.4L519.4 93.6 M344.1 161.3L346.3 163.6"/>
<path id="ant" d="M237.4 278.8L238.6 278.7L239.8 278.5L241.3 278.5L242.8 278.4L244.4 278.4L245.9 278.3L247.5 278.2L248.9 278.1L250.3 278.0L251.7 277.8L253.2 277.7L254.6 277.5L256.0 277.3L257.4 277.1L258.8 276.9L260.2 276.7L261.3 276.4L262.4 276.1L263.5 275.8L264.7 275.5L265.8 275.2L267.2 274.9L268.6 274.5L270.0 274.2L271.4 273.9L273.2 273.9L275.0 273.9L276.7 273.9L278.5 273.9L280.3 273.9L282.0 273.6L283.6 273.3L285.2 273.2L286.7 273.0L288.2 272.9L289.7 272.8L291.8 273.0L293.8 273.1L295.8 273.3L297.6 273.2L299.4 273.0L301.3 272.9L303.2 272.9L305.1 272.9L307.0 272.9L308.9 272.8L311.2 272.0L312.6 271.0L314.1 270.0L315.5 268.1L316.8 266.4L318.0 265.2L320.2 265.2L321.2 266.4L320.3 268.1L320.4 270.0L321.9 272.0L323.9 274.1L324.8 276.2L324.7 278.4L327.1 278.8L329.6 279.2L331.2 279.4L332.8 279.5L334.3 279.7L335.9 279.8L337.6 279.7L339.3 279.7L340.9 279.6L342.6 279.5L344.8 279.6L347.0 279.7L348.6 279.0L350.2 278.2L351.8 277.5L353.6 276.7L355.3 276.0L357.2 275.4L359.1 275.1L361.0 274.7L362.9 273.9L364.9 273.0L366.9 272.7L368.9 272.3L370.9 271.9L373.0 271.4L375.1 271.6L377.1 271.8L379.2 271.6L381.3 271.5L383.4 271.5L385.4 271.4L387.5 271.7L389.5 272.0L391.5 272.0L393.6 272.0L395.8 271.4L398.0 270.9L400.1 270.9L402.2 270.9L404.4 270.6L406.5 270.3L408.8 269.8L411.2 269.2L413.5 268.7L415.9 268.1L418.1 267.8L420.4 267.5L422.2 268.3L424.0 269.0L426.1 269.1L428.1 269.2L429.9 269.8L431.7 270.3L433.0 270.9L435.2 271.4L438.8 269.8L440.9 269.2L443.4 268.7L445.9 268.1L448.0 268.1L450.2 268.1L452.5 267.8L454.9 267.5L457.2 267.4L459.5 267.2L461.4 267.5L463.2 267.9L465.5 267.7L467.8 267.5L469.7 267.8L471.6 268.1L473.8 268.1L475.9 268.1L478.2 268.0L480.4 267.9L482.7 267.7L485.1 267.5L487.2 267.5L489.4 267.5L491.1 267.9L492.8 268.3L494.7 268.5L496.7 268.7L498.0 269.3L499.2 270.0L500.8 270.4L502.3 270.9L503.6 271.4L504.9 272.0L506.4 272.3L507.9 272.7L509.5 273.0L511.1 273.3L505.6 275.2L497.4 278.2L489.7 281.1L485.6 283.3L486.4 283.6L487.2 283.8L488.0 284.0L488.8 284.3L489.6 284.5L490.8 284.6L491.9 284.6L493.1 284.7L494.2 284.8L494.2 284.8L490.4 286.1L486.9 287.3L483.7 288.2L482.9 288.4L263.1 288.4L260.1 287.6L256.7 286.5L253.0 285.2L249.0 283.7L244.7 282.0L240.4 280.2Z"/>
<path id="antc" d="M254.7 280.5L255.5 280.1L256.4 279.8L257.3 279.4L258.2 279.1L259.1 278.7L260.1 278.3L261.3 278.1L262.5 277.8L263.7 277.6L265.0 277.3L266.3 277.1L267.5 276.8L269.4 276.7L271.2 276.5L273.0 276.4L275.0 276.0L278.1 277.5L279.5 277.3L281.0 277.1L282.5 276.8L284.1 276.8L285.7 276.7L287.3 276.6L288.6 275.9L290.0 275.3L291.4 274.8L292.8 274.3L295.3 274.5L297.7 274.7L299.7 274.9L301.6 275.0L303.6 275.1L305.5 275.2L307.0 275.0L308.4 274.7L309.9 274.5L311.4 274.3L313.2 272.5L313.2 270.0L314.3 269.0L315.5 268.1L316.8 266.4L318.7 265.0L321.1 264.3L321.7 265.6L320.1 267.0L320.0 269.3L321.5 271.5L324.5 275.3L324.8 276.2L324.7 278.4L327.1 278.8L329.6 279.2L331.2 279.4L332.8 279.5L334.3 279.7L335.9 279.8L337.6 279.7L339.3 279.7L340.9 279.6L342.6 279.5L344.8 279.6L347.0 279.7L348.6 279.0L350.2 278.2L351.8 277.5L353.6 276.7L355.3 276.0L357.2 275.4L359.1 275.1L361.0 274.7L362.9 273.9L364.9 273.0L366.9 272.7L368.9 272.3L370.9 271.9L373.0 271.4L375.1 271.6L377.1 271.8L379.2 271.6L381.3 271.5L383.4 271.5L385.4 271.4L387.5 271.7L389.5 272.0L391.5 272.0L393.6 272.0L395.8 271.4L398.0 270.9L400.1 270.9L402.2 270.9L404.4 270.6L406.5 270.3L408.8 269.8L411.2 269.2L413.5 268.7L415.9 268.1L418.1 267.8L420.4 267.5L422.2 268.3L424.0 269.0L426.1 269.1L428.1 269.2L429.9 269.8L431.7 270.3L433.0 270.9L435.2 271.4L438.8 269.8L440.9 269.2L443.4 268.7L445.9 268.1L448.0 268.1L450.2 268.1L452.5 267.8L454.9 267.5L457.2 267.4L459.5 267.2L461.4 267.5L463.2 267.9L465.5 267.7L467.8 267.5L469.7 267.8L471.6 268.1L473.8 268.1L475.9 268.1L478.2 268.0L480.4 267.9L482.7 267.7L485.1 267.5L487.2 267.5L489.4 267.5L491.1 267.9L492.8 268.3L494.7 268.5L496.7 268.7L498.0 269.3L499.2 270.0L500.8 270.4L502.3 270.9L503.6 271.4L504.9 272.0L506.4 272.3L507.9 272.7L509.5 273.0L511.1 273.3L505.6 275.2L497.4 278.2L489.7 281.1L485.6 283.3L486.4 283.6L487.2 283.8L488.0 284.0L488.8 284.3L489.6 284.5L490.8 284.6L491.9 284.6L493.1 284.7L494.2 284.8M254.7 280.5L257.3 281.0L260.0 281.6L262.5 282.0L265.0 282.4L267.5 282.8L271.4 284.4L275.1 285.8"/>
<path id="frame" d="M482.9 288.4L486.7 287.3L491.1 285.9L496.0 284.1L501.3 282.0L506.7 279.7L512.0 277.2L516.8 274.6L521.4 272.0L525.7 269.2L529.8 266.4L533.9 263.5L537.9 260.5L541.7 257.5L545.4 254.5L548.9 251.4L552.2 248.2L555.2 245.1L558.0 241.9L560.7 238.7L563.3 235.5L565.6 232.2L567.6 229.0L569.5 225.7L571.2 222.5L572.7 219.2L573.9 215.9L574.9 212.7L575.8 209.4L576.6 206.2L577.4 202.9L578.0 199.7L578.5 196.4L578.9 193.2L579.2 189.9L579.3 186.7L579.5 183.4L579.3 180.1L579.2 176.9L578.9 173.6L578.5 170.4L578.0 167.1L577.4 163.9L576.6 160.6L575.8 157.4L574.9 154.1L573.9 150.9L572.7 147.6L571.2 144.3L569.5 141.1L567.6 137.8L565.6 134.6L563.3 131.3L560.7 128.1L558.0 124.9L555.2 121.7L552.2 118.6L548.9 115.4L545.4 112.3L541.7 109.3L537.9 106.3L533.9 103.3L529.8 100.4L525.7 97.6L521.4 94.8L516.8 92.2L512.0 89.6L506.7 87.1L501.3 84.8L496.0 82.7L491.1 80.9L486.7 79.5L482.9 78.4L263.1 78.4L259.3 79.5L254.9 80.9L250.0 82.7L244.7 84.8L239.3 87.1L234.0 89.6L229.2 92.2L224.6 94.8L220.3 97.6L216.2 100.4L212.1 103.3L208.1 106.3L204.3 109.3L200.6 112.3L197.1 115.4L193.8 118.6L190.8 121.7L188.0 124.9L185.3 128.1L182.7 131.3L180.4 134.6L178.4 137.8L176.5 141.1L174.8 144.3L173.3 147.6L172.1 150.9L171.1 154.1L170.2 157.4L169.4 160.6L168.6 163.9L168.0 167.1L167.5 170.4L167.1 173.6L166.8 176.9L166.7 180.1L166.6 183.4L166.7 186.7L166.8 189.9L167.1 193.2L167.5 196.4L168.0 199.7L168.6 202.9L169.4 206.2L170.2 209.4L171.1 212.7L172.1 215.9L173.3 219.2L174.8 222.5L176.5 225.7L178.4 229.0L180.4 232.2L182.7 235.5L185.3 238.7L188.0 241.9L190.8 245.1L193.8 248.2L197.1 251.4L200.6 254.5L204.3 257.5L208.1 260.5L212.1 263.5L216.2 266.4L220.3 269.2L224.6 272.0L229.2 274.6L234.0 277.2L239.3 279.7L244.7 282.0L250.0 284.1L254.9 285.9L259.3 287.3L263.1 288.4Z"/>
<clipPath id="cf"><use href="#frame"/></clipPath>
<clipPath id="cmc"><path d="M189.5 183.4L189.6 180.1L189.7 176.9L190.0 173.6L190.3 170.4L190.8 167.1L191.3 163.9L192.0 160.6L192.8 157.4L193.5 154.1L194.4 150.9L195.5 147.6L196.8 144.3L198.3 141.1L200.0 137.8L201.8 134.6L203.9 131.3L206.1 128.1L208.5 124.9L211.1 121.7L213.7 118.6L216.6 115.4L219.8 112.3L223.0 109.3L226.4 106.3L230.0 103.3L233.6 100.4L237.3 97.6L241.1 94.8L245.1 92.2L249.5 89.6L254.2 87.1L259.0 84.8L263.6 82.7L268.0 80.9L271.9 79.5L275.3 78.4L347.4 78.4L346.5 79.5L345.4 80.9L344.3 82.7L343.1 84.8L341.8 87.1L340.6 89.6L339.4 92.2L338.4 94.8L337.4 97.6L336.4 100.4L335.5 103.3L334.5 106.3L333.6 109.3L332.8 112.3L332.0 115.4L331.2 118.6L330.5 121.7L329.8 124.9L329.2 128.1L328.6 131.3L328.1 134.6L327.6 137.8L327.1 141.1L326.8 144.3L326.4 147.6L326.1 150.9L325.9 154.1L325.7 157.4L325.5 160.6L325.3 163.9L325.2 167.1L325.0 170.4L325.0 173.6L324.9 176.9L324.9 180.1L324.8 183.4Z"/></clipPath>
</defs>
<rect width="800" height="800" fill="#fff"/>
<text x="400" y="36.5" class="t1" textLength="581.5" lengthAdjust="spacingAndGlyphs">SON total snow water equiv (SNOWICE + SNOWLIQ) (mm)</text>
<text x="372.8" y="67.4" class="t2" textLength="465" lengthAdjust="spacingAndGlyphs">b.e21.B1850.f19_g17.CMIP6-piControl-2deg.002 (yrs 900-999)</text>
<text x="372.9" y="318.2" class="t2" textLength="133.3" lengthAdjust="spacingAndGlyphs">CMC (1980-1996)</text>
<text x="373.1" y="568.5" class="t2" textLength="509.8" lengthAdjust="spacingAndGlyphs">b.e21.B1850.f19_g17.CMIP6-piControl-2deg.002 - CMC (1980-1996)</text>

<!-- panel 1 -->
<g>
 <g clip-path="url(#cf)" shape-rendering="crispEdges">
  <path d="M258.1 163.7L258.2 162.4L258.4 161.2L252.7 161.2L252.9 160.0L253.1 158.7L253.3 157.5L253.5 156.3L253.7 155.0L253.9 153.8L245.5 153.8L245.7 152.6L246.0 151.3L246.2 150.1L246.5 148.9L243.7 148.9L244.1 147.6L244.4 146.4L244.7 145.2L245.1 143.9L242.4 143.9L242.8 142.7L243.2 141.5L243.7 140.2L244.1 139.0L241.4 139.0L241.9 137.8L242.4 136.5L239.8 136.5L240.3 135.3L240.9 134.1L238.2 134.1L238.8 132.8L239.4 131.6L240.1 130.4L240.7 129.2L241.4 127.9L242.1 126.7L242.9 125.5L243.6 124.3L244.3 123.1L245.1 121.9L245.9 120.7L246.7 119.5L244.2 119.5L245.0 118.3L245.9 117.1L246.8 115.9L247.7 114.7L245.3 114.7L244.4 115.9L243.4 117.1L241.0 117.1L241.9 115.9L242.9 114.7L243.8 113.6L244.9 112.4L245.9 111.2L246.9 110.1L242.2 110.1L243.3 108.9L244.4 107.8L230.5 107.8L229.3 108.9L228.1 110.1L225.7 110.1L224.5 111.2L223.3 112.4L218.5 112.4L217.3 113.6L216.1 114.7L211.2 114.7L212.5 113.6L213.7 112.4L215.0 111.2L216.3 110.1L218.6 110.1L219.9 108.9L221.2 107.8L218.9 107.8L220.3 106.6L221.6 105.5L223.0 104.4L224.4 103.3L225.8 102.2L227.3 101.1L222.9 101.1L221.4 102.2L220.0 103.3L217.7 103.3L219.2 102.2L220.7 101.1L216.3 101.1L214.8 102.2L213.2 103.3L211.7 104.4L210.3 105.5L209.1 105.5L210.6 104.4L212.1 103.3L213.7 102.2L215.2 101.1L216.8 100.0L218.3 98.9L219.9 97.9L221.5 96.8L223.2 95.8L224.8 94.7L227.9 94.7L226.3 95.8L224.7 96.8L231.0 96.8L232.5 95.8L234.1 94.7L238.2 94.7L239.7 93.7L241.3 92.7L257.4 92.7L256.0 93.7L254.7 94.7L265.0 94.7L266.2 93.7L267.4 92.7L271.5 92.7L272.7 91.7L274.0 90.7L275.3 89.7L276.7 88.8L278.1 87.8L279.5 86.9L301.7 86.9L300.6 87.8L299.6 88.8L298.5 89.7L297.5 90.7L315.2 90.7L314.4 91.7L313.7 92.7L321.7 92.7L321.1 93.7L320.5 94.7L319.9 95.8L319.4 96.8L321.5 96.8L320.9 97.9L320.4 98.9L319.8 100.0L319.3 101.1L317.1 101.1L316.6 102.2L316.0 103.3L315.5 104.4L315.0 105.5L317.2 105.5L316.7 106.6L316.2 107.8L315.7 108.9L315.3 110.1L317.6 110.1L317.2 111.2L316.7 112.4L319.1 112.4L318.7 113.6L318.3 114.7L320.7 114.7L320.3 115.9L319.9 117.1L319.6 118.3L319.2 119.5L321.7 119.5L321.4 120.7L321.1 121.9L320.8 123.1L320.5 124.3L315.3 124.3L315.7 123.1L316.0 121.9L313.5 121.9L313.1 123.1L312.8 124.3L312.4 125.5L312.1 126.7L301.7 126.7L301.4 127.9L301.0 129.2L300.6 130.4L300.3 131.6L295.0 131.6L294.6 132.8L294.2 134.1L293.9 135.3L293.6 136.5L293.3 137.8L293.0 139.0L290.3 139.0L290.0 140.2L289.7 141.5L286.9 141.5L286.7 142.7L286.4 143.9L286.1 145.2L285.9 146.4L285.6 147.6L285.4 148.9L285.2 150.1L285.0 151.3L284.9 152.6L284.7 153.8L290.3 153.8L290.2 155.0L290.0 156.3L295.7 156.3L295.5 157.5L295.4 158.7L298.2 158.7L298.1 160.0L298.0 161.2L286.7 161.2L286.8 160.0L286.9 158.7L284.1 158.7L284.3 157.5L284.4 156.3L276.0 156.3L275.8 157.5L275.7 158.7L275.5 160.0L275.4 161.2L281.0 161.2L280.9 162.4L280.8 163.7L280.6 164.9L280.5 166.1L280.4 167.4L280.4 168.6L280.3 169.8L280.2 171.1L285.9 171.1L286.0 169.8L286.1 168.6L288.9 168.6L289.0 167.4L289.1 166.1L294.8 166.1L294.7 167.4L294.6 168.6L306.0 168.6L306.0 169.8L305.9 171.1L305.8 172.3L305.8 173.5L311.5 173.5L311.5 174.8L311.5 176.0L317.2 176.0L317.2 177.2L317.1 178.5L317.1 179.7L317.1 180.9L317.1 182.2L317.1 183.4L322.8 183.4L322.8 184.6L322.8 185.9L331.4 185.9L331.4 187.1L331.5 188.3L334.3 188.3L334.3 189.6L334.4 190.8L334.4 192.0L334.4 193.3L334.4 194.5L334.5 195.7L334.5 197.0L334.5 198.2L331.7 198.2L331.7 199.4L331.7 200.7L331.8 201.9L331.8 203.1L329.0 203.1L329.1 204.4L329.1 205.6L329.2 206.8L329.3 208.1L329.3 209.3L329.4 210.5L329.5 211.8L329.6 213.0L326.8 213.0L326.8 214.2L326.9 215.5L321.3 215.5L321.5 216.7L321.6 217.9L321.7 219.2L321.8 220.4L319.1 220.4L319.2 221.6L319.4 222.9L319.5 224.1L319.7 225.3L317.0 225.3L317.2 226.6L317.4 227.8L314.7 227.8L314.9 229.0L315.1 230.3L312.4 230.3L312.7 231.5L312.9 232.7L313.2 234.0L313.5 235.2L308.2 235.2L308.5 236.4L308.8 237.6L306.2 237.6L306.6 238.9L306.9 240.1L307.3 241.3L307.7 242.5L308.0 243.7L308.4 244.9L308.8 246.1L309.2 247.3L306.7 247.3L307.2 248.5L307.6 249.7L308.1 250.9L308.5 252.1L311.0 252.1L311.4 253.2L311.9 254.4L309.5 254.4L310.0 255.6L310.5 256.7L305.8 256.7L305.3 255.6L304.7 254.4L302.3 254.4L301.8 253.2L301.2 252.1L298.8 252.1L298.3 250.9L297.7 249.7L297.2 248.5L296.7 247.3L296.2 246.1L295.8 244.9L295.3 243.7L294.8 242.5L294.4 241.3L294.0 240.1L293.5 238.9L293.1 237.6L292.7 236.4L292.3 235.2L295.0 235.2L294.6 234.0L294.2 232.7L293.9 231.5L293.6 230.3L293.3 229.0L293.0 227.8L292.7 226.6L292.4 225.3L292.1 224.1L291.9 222.9L291.6 221.6L291.4 220.4L294.2 220.4L294.0 219.2L293.8 217.9L293.6 216.7L293.4 215.5L293.3 214.2L293.1 213.0L293.0 211.8L292.9 210.5L292.7 209.3L292.6 208.1L289.8 208.1L289.6 206.8L289.5 205.6L286.7 205.6L286.6 204.4L286.4 203.1L283.6 203.1L283.5 201.9L283.4 200.7L283.3 199.4L283.2 198.2L283.1 197.0L283.1 195.7L280.2 195.7L280.1 194.5L280.1 193.3L280.0 192.0L280.0 190.8L277.1 190.8L277.1 189.6L277.0 188.3L279.9 188.3L279.9 187.1L279.8 185.9L279.8 184.6L279.8 183.4L279.8 182.2L279.8 180.9L282.7 180.9L282.7 179.7L282.8 178.5L282.8 177.2L282.8 176.0L280.0 176.0L280.0 174.8L280.1 173.5L274.4 173.5L274.4 172.3L274.5 171.1L274.6 169.8L274.7 168.6L271.8 168.6L271.9 167.4L272.0 166.1L266.3 166.1L266.4 164.9L266.6 163.7ZM228.0 98.9L230.2 98.9L231.6 97.9L233.1 96.8L231.0 96.8L229.5 97.9ZM289.9 105.5L287.6 105.5L286.9 106.6L286.1 107.8L290.7 107.8L290.0 108.9L289.3 110.1L296.4 110.1L295.8 111.2L295.2 112.4L297.5 112.4L298.2 111.2L298.8 110.1L299.4 108.9L300.0 107.8L300.7 106.6L301.3 105.5L302.0 104.4L302.6 103.3L291.4 103.3L290.7 104.4ZM308.4 121.9L311.0 121.9L311.3 120.7L311.7 119.5L309.2 119.5L308.8 120.7ZM270.7 153.8L279.1 153.8L279.3 152.6L279.5 151.3L279.7 150.1L279.9 148.9L280.1 147.6L280.3 146.4L266.5 146.4L266.2 147.6L266.0 148.9L265.7 150.1L265.5 151.3L265.3 152.6L265.1 153.8L264.9 155.0L264.7 156.3L267.5 156.3L267.4 157.5L267.2 158.7L270.0 158.7L270.2 157.5L270.4 156.3L270.5 155.0ZM199.5 158.7L196.7 158.7L196.9 157.5L197.2 156.3L200.0 156.3L199.8 157.5ZM328.6 105.5L326.3 105.5L326.8 104.4L327.2 103.3L329.4 103.3L329.0 104.4ZM328.8 94.7L326.7 94.7L327.2 93.7L327.8 92.7L329.8 92.7L329.3 93.7ZM326.9 90.7L325.0 90.7L325.6 89.7L326.3 88.8L328.2 88.8L327.5 89.7ZM318.6 88.8L314.8 88.8L315.7 87.8L316.5 86.9L318.4 86.9L319.2 86.0L320.1 85.1L321.9 85.1L321.1 86.0L320.2 86.9L319.4 87.8ZM323.7 85.1L321.9 85.1L322.7 84.3L323.5 83.5L325.2 83.5L324.4 84.3ZM328.7 83.5L329.4 82.8L330.0 82.0L333.4 82.0L332.8 82.8L332.2 83.5ZM388.1 222.9L388.2 221.6L388.2 220.4L388.3 219.2L388.3 217.9L388.3 216.7L388.4 215.5L388.4 214.2L388.4 213.0L388.4 211.8L388.5 210.5L385.7 210.5L385.7 209.3L385.7 208.1L385.7 206.8L385.7 205.6L385.8 204.4L385.8 203.1L385.8 201.9L385.8 200.7L385.8 199.4L385.8 198.2L385.8 197.0L385.8 195.7L385.9 194.5L385.9 193.3L385.9 192.0L385.9 190.8L383.0 190.8L383.0 189.6L383.0 188.3L383.0 187.1L383.0 185.9L383.0 184.6L383.0 183.4L383.0 182.2L383.0 180.9L383.0 179.7L383.0 178.5L377.3 178.5L377.3 177.2L377.3 176.0L374.4 176.0L374.4 177.2L374.4 178.5L360.1 178.5L360.1 177.2L360.1 176.0L357.3 176.0L357.3 174.8L357.3 173.5L357.3 172.3L357.3 171.1L354.4 171.1L354.5 169.8L354.5 168.6L351.6 168.6L351.6 167.4L351.7 166.1L351.7 164.9L351.7 163.7L351.7 162.4L351.8 161.2L351.8 160.0L351.8 158.7L351.9 157.5L351.9 156.3L351.9 155.0L352.0 153.8L354.8 153.8L354.8 152.6L354.9 151.3L354.9 150.1L354.9 148.9L355.0 147.6L355.0 146.4L357.8 146.4L357.8 145.2L357.9 143.9L360.6 143.9L360.7 142.7L360.7 141.5L360.7 140.2L360.8 139.0L363.5 139.0L363.5 137.8L363.6 136.5L360.9 136.5L360.9 135.3L361.0 134.1L361.0 132.8L361.1 131.6L361.2 130.4L361.2 129.2L361.3 127.9L361.3 126.7L361.4 125.5L361.5 124.3L361.5 123.1L361.6 121.9L366.7 121.9L366.7 120.7L366.7 119.5L366.8 118.3L366.8 117.1L361.9 117.1L362.0 115.9L362.1 114.7L362.1 113.6L362.2 112.4L364.6 112.4L364.7 111.2L364.8 110.1L367.1 110.1L367.2 108.9L367.2 107.8L371.8 107.8L371.8 108.9L371.8 110.1L371.8 111.2L371.8 112.4L374.2 112.4L374.2 113.6L374.2 114.7L376.6 114.7L376.6 113.6L376.6 112.4L379.0 112.4L378.9 111.2L378.9 110.1L376.5 110.1L376.5 108.9L376.5 107.8L376.4 106.6L376.4 105.5L376.4 104.4L376.4 103.3L376.3 102.2L376.3 101.1L380.7 101.1L380.6 100.0L380.5 98.9L382.7 98.9L382.6 97.9L382.5 96.8L384.6 96.8L384.4 95.8L384.3 94.7L390.5 94.7L390.3 93.7L390.1 92.7L398.1 92.7L398.4 93.7L398.7 94.7L404.9 94.7L405.3 95.8L405.6 96.8L409.8 96.8L409.4 95.8L409.0 94.7L411.1 94.7L411.5 95.8L411.9 96.8L416.1 96.8L415.7 95.8L415.2 94.7L414.7 93.7L414.2 92.7L413.7 91.7L413.2 90.7L415.2 90.7L414.6 89.7L414.0 88.8L421.6 88.8L422.3 89.7L423.0 90.7L419.1 90.7L419.7 91.7L420.3 92.7L420.8 93.7L421.4 94.7L427.5 94.7L426.9 93.7L426.3 92.7L425.6 91.7L425.0 90.7L440.7 90.7L439.7 89.7L438.8 88.8L442.6 88.8L441.6 87.8L440.6 86.9L457.2 86.9L458.5 87.8L459.8 88.8L461.0 89.7L462.2 90.7L475.9 90.7L477.3 91.7L478.6 92.7L484.6 92.7L483.2 91.7L481.8 90.7L479.9 90.7L478.4 89.7L477.0 88.8L478.9 88.8L477.3 87.8L475.7 86.9L479.5 86.9L481.1 87.8L482.7 88.8L486.5 88.8L488.1 89.7L489.7 90.7L491.2 91.7L492.6 92.7L502.7 92.7L504.2 93.7L505.7 94.7L520.1 94.7L521.2 94.7L522.8 95.8L524.5 96.8L526.1 97.9L527.7 98.9L529.2 100.0L530.8 101.1L532.3 102.2L533.9 103.3L535.4 104.4L536.9 105.5L535.7 105.5L528.9 105.5L530.3 106.6L531.7 107.8L524.8 107.8L526.1 108.9L527.4 110.1L528.6 111.2L529.9 112.4L531.1 113.6L532.3 114.7L529.9 114.7L531.1 115.9L532.2 117.1L529.7 117.1L530.8 118.3L531.8 119.5L529.3 119.5L528.3 118.3L527.2 117.1L524.8 117.1L523.7 115.9L522.6 114.7L521.5 113.6L520.3 112.4L519.1 111.2L517.9 110.1L516.7 108.9L515.5 107.8L506.2 107.8L507.4 108.9L508.5 110.1L503.8 110.1L504.9 111.2L505.9 112.4L510.7 112.4L511.8 113.6L512.9 114.7L513.9 115.9L514.9 117.1L515.9 118.3L516.8 119.5L519.3 119.5L520.3 120.7L521.2 121.9L518.6 121.9L519.5 123.1L520.3 124.3L522.9 124.3L523.8 125.5L524.6 126.7L525.4 127.9L526.2 129.2L523.6 129.2L524.4 130.4L525.1 131.6L525.8 132.8L526.5 134.1L523.8 134.1L524.5 135.3L525.1 136.5L525.7 137.8L526.3 139.0L523.6 139.0L524.1 140.2L524.6 141.5L519.2 141.5L519.7 142.7L520.1 143.9L514.6 143.9L514.2 142.7L513.7 141.5L513.2 140.2L512.7 139.0L510.0 139.0L509.5 137.8L508.9 136.5L503.6 136.5L504.1 137.8L504.6 139.0L505.0 140.2L505.5 141.5L508.2 141.5L508.7 142.7L509.1 143.9L509.5 145.2L509.9 146.4L510.3 147.6L510.6 148.9L510.9 150.1L511.2 151.3L511.5 152.6L511.7 153.8L508.9 153.8L509.2 155.0L509.4 156.3L506.6 156.3L506.4 155.0L506.1 153.8L503.3 153.8L503.6 155.0L503.8 156.3L498.1 156.3L498.3 157.5L498.6 158.7L498.7 160.0L498.9 161.2L496.1 161.2L496.3 162.4L496.5 163.7L499.3 163.7L499.5 164.9L499.6 166.1L499.7 167.4L499.9 168.6L497.0 168.6L497.1 169.8L497.2 171.1L494.4 171.1L494.4 172.3L494.5 173.5L491.7 173.5L491.7 174.8L491.8 176.0L491.8 177.2L491.9 178.5L494.8 178.5L494.8 179.7L494.8 180.9L494.8 182.2L494.9 183.4L494.8 184.6L494.8 185.9L494.8 187.1L494.8 188.3L494.7 189.6L494.7 190.8L503.2 190.8L503.3 189.6L503.3 188.3L497.6 188.3L497.7 187.1L497.7 185.9L497.7 184.6L497.7 183.4L497.7 182.2L497.7 180.9L497.7 179.7L497.6 178.5L500.5 178.5L500.4 177.2L500.4 176.0L503.2 176.0L503.2 174.8L503.1 173.5L508.8 173.5L508.9 174.8L509.0 176.0L511.8 176.0L511.9 177.2L511.9 178.5L509.1 178.5L509.1 179.7L509.2 180.9L520.6 180.9L520.6 182.2L520.7 183.4L532.1 183.4L532.1 184.6L532.1 185.9L540.7 185.9L540.6 187.1L540.6 188.3L549.2 188.3L549.1 189.6L549.0 190.8L546.2 190.8L546.1 192.0L546.0 193.3L545.9 194.5L545.8 195.7L545.6 197.0L545.5 198.2L539.8 198.2L539.9 197.0L540.0 195.7L537.2 195.7L537.1 197.0L536.9 198.2L536.8 199.4L536.6 200.7L539.4 200.7L539.2 201.9L539.0 203.1L538.8 204.4L538.6 205.6L541.4 205.6L541.1 206.8L540.9 208.1L540.6 209.3L540.3 210.5L543.1 210.5L542.9 211.8L542.6 213.0L545.4 213.0L545.1 214.2L544.7 215.5L544.4 216.7L544.0 217.9L543.5 219.2L543.1 220.4L542.6 221.6L542.1 222.9L541.6 224.1L541.0 225.3L540.4 226.6L539.8 227.8L537.1 227.8L536.5 229.0L535.9 230.3L535.2 231.5L534.5 232.7L531.8 232.7L531.1 234.0L530.4 235.2L529.6 236.4L528.8 237.6L528.0 238.9L527.2 240.1L522.0 240.1L522.8 238.9L523.6 237.6L524.4 236.4L525.1 235.2L519.8 235.2L520.5 234.0L521.2 232.7L521.8 231.5L522.4 230.3L517.0 230.3L517.6 229.0L518.1 227.8L515.4 227.8L515.9 226.6L516.4 225.3L511.0 225.3L510.5 226.6L510.0 227.8L504.6 227.8L504.1 229.0L503.6 230.3L495.5 230.3L496.0 229.0L496.4 227.8L496.9 226.6L497.3 225.3L497.7 224.1L498.1 222.9L498.5 221.6L498.8 220.4L499.2 219.2L499.5 217.9L496.7 217.9L497.0 216.7L497.3 215.5L497.5 214.2L497.7 213.0L500.5 213.0L500.7 211.8L501.0 210.5L503.8 210.5L504.0 209.3L504.2 208.1L509.8 208.1L510.1 206.8L510.3 205.6L510.5 204.4L510.6 203.1L513.5 203.1L513.7 201.9L513.8 200.7L519.5 200.7L519.7 199.4L519.8 198.2L531.2 198.2L531.1 199.4L530.9 200.7L528.0 200.7L527.9 201.9L527.7 203.1L533.4 203.1L533.6 201.9L533.7 200.7L533.9 199.4L534.1 198.2L534.2 197.0L534.3 195.7L528.6 195.7L528.7 194.5L528.8 193.3L528.9 192.0L529.0 190.8L523.3 190.8L523.3 189.6L523.4 188.3L517.7 188.3L517.7 187.1L517.8 185.9L517.8 184.6L517.8 183.4L514.9 183.4L514.9 184.6L514.9 185.9L514.9 187.1L514.8 188.3L514.8 189.6L514.7 190.8L509.0 190.8L509.0 189.6L509.1 188.3L506.2 188.3L506.2 189.6L506.1 190.8L506.0 192.0L506.0 193.3L520.3 193.3L520.2 194.5L520.1 195.7L517.2 195.7L517.1 197.0L517.0 198.2L511.3 198.2L511.4 197.0L511.5 195.7L494.4 195.7L494.4 194.5L494.5 193.3L491.7 193.3L491.7 192.0L491.8 190.8L488.9 190.8L489.0 189.6L489.0 188.3L486.2 188.3L486.2 187.1L486.2 185.9L486.2 184.6L486.3 183.4L483.4 183.4L483.4 182.2L483.4 180.9L483.3 179.7L483.3 178.5L480.4 178.5L480.4 177.2L480.3 176.0L486.1 176.0L486.0 174.8L485.9 173.5L483.1 173.5L483.0 172.3L482.9 171.1L482.8 169.8L482.7 168.6L482.6 167.4L482.5 166.1L482.4 164.9L482.3 163.7L479.4 163.7L479.3 162.4L479.1 161.2L479.0 160.0L478.8 158.7L476.0 158.7L475.8 157.5L475.6 156.3L472.8 156.3L473.0 157.5L473.2 158.7L470.3 158.7L470.5 160.0L470.6 161.2L467.8 161.2L467.9 162.4L468.1 163.7L465.2 163.7L465.4 164.9L465.5 166.1L465.6 167.4L465.6 168.6L465.7 169.8L465.8 171.1L468.7 171.1L468.7 172.3L468.8 173.5L468.8 174.8L468.9 176.0L463.2 176.0L463.1 174.8L463.1 173.5L460.2 173.5L460.2 172.3L460.1 171.1L457.2 171.1L457.2 169.8L457.1 168.6L457.0 167.4L456.9 166.1L456.8 164.9L456.7 163.7L453.9 163.7L453.8 162.4L453.7 161.2L453.5 160.0L453.4 158.7L453.3 157.5L453.1 156.3L450.3 156.3L450.2 155.0L450.1 153.8L447.3 153.8L447.1 152.6L447.0 151.3L441.4 151.3L441.5 152.6L441.7 153.8L441.8 155.0L441.9 156.3L442.0 157.5L442.1 158.7L439.3 158.7L439.4 160.0L439.5 161.2L436.7 161.2L436.8 162.4L436.9 163.7L431.2 163.7L431.3 164.9L431.3 166.1L431.4 167.4L431.4 168.6L431.5 169.8L431.5 171.1L431.6 172.3L431.6 173.5L431.6 174.8L431.7 176.0L428.8 176.0L428.8 177.2L428.9 178.5L428.9 179.7L428.9 180.9L426.0 180.9L426.0 182.2L426.0 183.4L423.2 183.4L423.2 184.6L423.2 185.9L420.3 185.9L420.3 187.1L420.3 188.3L420.3 189.6L420.2 190.8L420.2 192.0L420.2 193.3L420.1 194.5L420.1 195.7L420.1 197.0L420.0 198.2L420.0 199.4L419.9 200.7L419.9 201.9L419.8 203.1L419.8 204.4L419.7 205.6L416.9 205.6L416.8 206.8L416.7 208.1L413.9 208.1L413.8 209.3L413.8 210.5L413.7 211.8L413.6 213.0L413.6 214.2L413.5 215.5L413.4 216.7L413.3 217.9L410.5 217.9L410.4 219.2L410.3 220.4L410.2 221.6L410.1 222.9L407.4 222.9L407.3 224.1L407.2 225.3L407.0 226.6L406.9 227.8L398.8 227.8L398.7 229.0L398.6 230.3L390.5 230.3L390.6 229.0L390.6 227.8L390.7 226.6L390.8 225.3L390.8 224.1L390.9 222.9ZM491.5 171.1L488.6 171.1L488.7 172.3L488.8 173.5L491.7 173.5L491.6 172.3ZM425.6 166.1L425.7 167.4L425.7 168.6L428.6 168.6L428.5 167.4L428.5 166.1ZM401.5 139.0L398.8 139.0L398.9 140.2L399.0 141.5L409.9 141.5L409.8 140.2L409.6 139.0L406.9 139.0L406.8 137.8L406.6 136.5L401.3 136.5L401.4 137.8ZM393.3 139.0L396.1 139.0L396.0 137.8L395.9 136.5L395.8 135.3L395.7 134.1L390.4 134.1L390.4 135.3L390.5 136.5L385.1 136.5L385.2 137.8L385.2 139.0L390.6 139.0L390.7 140.2L390.8 141.5L393.5 141.5L393.4 140.2ZM403.1 129.2L405.7 129.2L405.6 127.9L405.4 126.7L402.8 126.7L403.0 127.9ZM376.9 129.2L376.9 130.4L377.0 131.6L374.3 131.6L374.3 132.8L374.3 134.1L379.7 134.1L379.6 132.8L379.6 131.6L379.6 130.4L379.5 129.2ZM515.2 124.3L516.0 125.5L516.8 126.7L519.4 126.7L518.6 125.5L517.8 124.3L516.9 123.1L516.1 121.9L513.6 121.9L514.4 123.1ZM514.2 126.7L515.0 127.9L515.7 129.2L510.5 129.2L511.2 130.4L511.9 131.6L509.2 131.6L509.9 132.8L510.5 134.1L513.2 134.1L513.7 135.3L514.3 136.5L519.7 136.5L519.1 135.3L518.5 134.1L521.2 134.1L520.5 132.8L519.8 131.6L519.1 130.4L518.4 129.2L517.6 127.9L516.8 126.7ZM413.2 126.7L410.6 126.7L410.8 127.9L411.0 129.2L413.6 129.2L413.4 127.9ZM334.8 107.8L330.1 107.8L330.5 106.6L330.9 105.5L335.4 105.5L335.1 106.6ZM338.4 103.3L336.1 103.3L336.5 102.2L336.8 101.1L339.0 101.1L338.7 102.2ZM353.4 94.7L355.5 94.7L355.3 95.8L355.1 96.8L354.9 97.9L354.7 98.9L356.9 98.9L357.1 97.9L357.2 96.8L361.4 96.8L361.3 97.9L361.2 98.9L361.1 100.0L360.9 101.1L360.8 102.2L360.7 103.3L351.8 103.3L352.0 102.2L352.2 101.1L350.0 101.1L350.2 100.0L350.4 98.9L352.6 98.9L352.8 97.9L353.0 96.8L353.2 95.8ZM341.2 101.1L341.5 100.0L341.9 98.9L344.0 98.9L343.7 100.0L343.4 101.1ZM348.3 98.9L346.1 98.9L346.4 97.9L346.7 96.8L348.8 96.8L348.6 97.9ZM391.1 88.8L383.5 88.8L383.3 87.8L383.2 86.9L390.6 86.9L390.9 87.8ZM440.9 249.7L441.3 248.5L441.8 247.3L442.2 246.1L442.6 244.9L445.2 244.9L444.7 246.1L444.3 247.3L443.8 248.5L443.3 249.7ZM422.4 208.1L422.5 206.8L422.5 205.6L422.6 204.4L422.7 203.1L425.5 203.1L425.6 201.9L425.6 200.7L425.7 199.4L425.7 198.2L431.4 198.2L431.4 199.4L431.3 200.7L431.3 201.9L431.2 203.1L431.1 204.4L431.0 205.6L430.9 206.8L430.8 208.1L430.7 209.3L430.7 210.5L427.8 210.5L427.7 211.8L427.7 213.0L427.6 214.2L427.4 215.5L427.3 216.7L427.2 217.9L421.6 217.9L421.8 216.7L421.9 215.5L419.1 215.5L419.2 214.2L419.2 213.0L419.3 211.8L419.4 210.5L422.2 210.5L422.3 209.3ZM507.8 163.7L507.6 162.4L507.4 161.2L507.2 160.0L507.0 158.7L512.7 158.7L512.9 160.0L513.1 161.2L513.3 162.4L513.5 163.7L513.7 164.9L513.8 166.1L516.7 166.1L516.8 167.4L517.0 168.6L517.1 169.8L517.2 171.1L520.1 171.1L520.2 172.3L520.3 173.5L520.3 174.8L520.4 176.0L511.8 176.0L511.8 174.8L511.7 173.5L508.8 173.5L508.7 172.3L508.6 171.1L508.5 169.8L508.4 168.6L508.3 167.4L508.1 166.1L508.0 164.9ZM556.9 235.2L557.7 234.0L558.5 232.7L559.3 231.5L560.1 230.3L557.4 230.3L558.1 229.0L558.8 227.8L564.2 227.8L563.5 229.0L562.8 230.3L565.5 230.3L564.7 231.5L563.9 232.7L563.0 234.0L562.1 235.2L561.2 236.4L560.3 237.6L557.7 237.6L556.7 238.9L555.7 240.1L553.1 240.1L552.1 241.3L551.1 242.5L548.5 242.5L547.5 243.7L546.5 244.9L541.4 244.9L542.4 243.7L543.4 242.5L544.4 241.3L545.3 240.1L547.9 240.1L548.9 238.9L549.8 237.6L552.4 237.6L553.3 236.4L554.2 235.2ZM556.6 213.0L556.9 211.8L557.2 210.5L557.5 209.3L557.8 208.1L560.6 208.1L560.3 209.3L560.0 210.5L562.8 210.5L562.5 211.8L562.2 213.0ZM571.9 208.1L572.2 206.8L572.5 205.6L575.4 205.6L575.0 206.8L574.7 208.1Z" fill="#3a72e8"/>
<path d="M251.7 284.8L249.8 284.0L247.9 283.3L245.9 282.5L243.8 281.7L241.8 280.8L239.7 279.9L237.7 279.0L235.6 278.0L233.7 277.1L231.8 276.1L230.0 275.1L228.2 274.1L226.5 273.1L224.8 272.1L225.9 272.1L227.5 273.1L229.2 274.1L231.0 275.1L232.8 276.1L234.7 277.1L236.6 278.0L250.0 278.0L248.2 277.1L246.5 276.1L262.2 276.1L260.8 275.1L259.4 274.1L269.5 274.1L268.2 273.1L267.0 272.1L310.2 272.1L309.5 271.0L308.8 270.0L313.0 270.0L312.4 268.9L311.8 267.9L313.9 267.9L313.3 266.8L312.7 265.7L317.1 265.7L316.6 264.6L316.0 263.5L318.3 263.5L318.8 264.6L319.3 265.7L321.5 265.7L322.0 266.8L322.5 267.9L320.4 267.9L320.9 268.9L321.5 270.0L322.0 271.0L322.6 272.1L324.6 272.1L325.2 273.1L325.7 274.1L326.3 275.1L326.9 276.1L325.0 276.1L325.6 277.1L326.3 278.0L349.2 278.0L348.8 277.1L348.5 276.1L354.4 276.1L354.1 275.1L353.9 274.1L361.9 274.1L361.8 273.1L361.7 272.1L369.9 272.1L369.9 271.0L369.8 270.0L407.7 270.0L408.1 268.9L408.4 267.9L417.0 267.9L417.5 266.8L417.9 265.7L422.3 265.7L421.8 266.8L421.3 267.9L432.1 267.9L431.5 268.9L430.8 270.0L437.2 270.0L437.8 268.9L438.5 267.9L451.4 267.9L452.2 266.8L453.0 265.7L472.7 265.7L471.7 266.8L470.7 267.9L479.3 267.9L480.4 266.8L481.5 265.7L494.6 265.7L493.4 266.8L492.2 267.9L503.0 267.9L501.6 268.9L500.3 270.0L508.7 270.0L507.2 271.0L505.7 272.1L520.1 272.1L521.2 272.1L519.5 273.1L517.8 274.1L516.0 275.1L514.2 276.1L512.3 277.1L510.4 278.0L508.3 279.0L506.3 279.9L504.2 280.8L502.2 281.7L500.1 282.5L498.1 283.3L496.2 284.0L494.3 284.8L492.4 285.4L490.6 286.1L488.9 286.6L487.3 287.2L485.7 287.6L484.2 288.0L482.9 288.4L482.1 288.4L457.7 288.4L458.8 288.0L459.9 287.6L461.1 287.2L462.4 286.6L463.7 286.1L465.1 285.4L466.5 284.8L464.8 284.8L466.2 284.0L467.7 283.3L469.2 282.5L470.8 281.7L472.3 280.8L473.9 279.9L475.7 279.9L477.3 279.0L478.9 278.0L480.4 277.1L481.8 276.1L483.2 275.1L484.6 274.1L442.4 274.1L441.5 275.1L440.7 276.1L377.9 276.1L377.8 277.1L377.8 278.0L375.9 278.0L375.8 279.0L375.8 279.9L375.7 280.8L375.7 281.7L375.6 282.5L375.6 283.3L375.6 284.0L375.5 284.8L377.2 284.8L377.1 285.4L377.1 286.1L378.7 286.1L378.6 286.6L378.6 287.2L380.1 287.2L380.0 287.6L380.0 288.0L379.9 288.4L263.1 288.4L261.8 288.0L260.3 287.6L258.7 287.2L257.1 286.6L255.4 286.1L253.6 285.4ZM353.0 96.8L346.7 96.8L346.4 97.9L346.1 98.9L339.7 98.9L339.4 100.0L339.0 101.1L336.8 101.1L336.5 102.2L336.1 103.3L335.8 104.4L335.4 105.5L328.6 105.5L329.0 104.4L329.4 103.3L329.8 102.2L330.3 101.1L328.1 101.1L328.5 100.0L329.0 98.9L326.8 98.9L327.3 97.9L327.8 96.8L329.9 96.8L330.3 95.8L330.8 94.7L328.8 94.7L329.3 93.7L329.8 92.7L330.3 91.7L330.8 90.7L328.9 90.7L329.5 89.7L330.1 88.8L320.5 88.8L321.3 87.8L322.1 86.9L320.2 86.9L321.1 86.0L321.9 85.1L320.1 85.1L319.2 86.0L318.4 86.9L316.5 86.9L315.7 87.8L314.8 88.8L312.9 88.8L312.1 89.7L311.2 90.7L297.5 90.7L298.5 89.7L299.6 88.8L300.6 87.8L301.7 86.9L279.5 86.9L281.0 86.0L282.4 85.1L286.0 85.1L287.4 84.3L288.7 83.5L299.1 83.5L300.3 82.8L301.4 82.0L330.0 82.0L329.4 82.8L328.7 83.5L340.8 83.5L341.3 82.8L341.8 82.0L345.2 82.0L345.6 81.4L346.0 80.7L354.2 80.7L353.9 81.4L353.6 82.0L358.7 82.0L358.5 82.8L358.2 83.5L360.0 83.5L360.2 82.8L360.4 82.0L365.4 82.0L365.3 82.8L365.2 83.5L366.9 83.5L366.8 84.3L366.7 85.1L363.1 85.1L363.0 86.0L362.8 86.9L361.0 86.9L360.8 87.8L360.6 88.8L360.4 89.7L360.3 90.7L360.1 91.7L359.9 92.7L357.9 92.7L358.1 91.7L358.3 90.7L356.3 90.7L356.1 91.7L355.9 92.7L355.7 93.7L355.5 94.7L353.4 94.7L353.2 95.8ZM325.5 85.1L326.2 84.3L326.9 83.5L323.5 83.5L322.7 84.3L321.9 85.1ZM332.9 94.7L334.9 94.7L334.5 95.8L334.1 96.8L333.7 97.9L333.3 98.9L335.4 98.9L335.8 97.9L336.2 96.8L340.4 96.8L340.7 95.8L341.1 94.7L343.2 94.7L343.5 93.7L343.8 92.7L345.9 92.7L346.2 91.7L346.5 90.7L348.5 90.7L348.8 89.7L349.2 88.8L349.5 87.8L349.9 86.9L348.0 86.9L348.4 86.0L348.8 85.1L339.8 85.1L339.3 86.0L338.8 86.9L336.9 86.9L336.3 87.8L335.8 88.8L335.3 89.7L334.8 90.7L334.3 91.7L333.8 92.7L333.3 93.7ZM357.2 96.8L355.1 96.8L355.3 95.8L355.5 94.7L357.6 94.7L357.4 95.8ZM393.6 85.1L391.8 85.1L392.1 86.0L392.4 86.9L379.5 86.9L379.4 86.0L379.3 85.1L381.1 85.1L380.9 84.3L380.8 83.5L393.0 83.5L393.3 84.3ZM405.2 83.5L419.1 83.5L419.8 84.3L420.5 85.1L406.2 85.1L405.7 84.3Z" fill="#ff3d00"/>
<path d="M375.7 281.7L375.7 280.8L375.8 279.9L375.8 279.0L375.9 278.0L377.8 278.0L377.8 277.1L377.9 276.1L440.7 276.1L441.5 275.1L442.4 274.1L484.6 274.1L483.2 275.1L481.8 276.1L480.4 277.1L478.9 278.0L477.3 279.0L475.7 279.9L473.9 279.9L472.3 280.8L470.8 281.7L469.2 282.5L467.7 283.3L466.2 284.0L464.8 284.8L466.5 284.8L465.1 285.4L463.7 286.1L462.4 286.6L461.1 287.2L459.9 287.6L458.8 288.0L457.7 288.4L379.9 288.4L380.0 288.0L380.0 287.6L380.1 287.2L378.6 287.2L378.6 286.6L378.7 286.1L377.1 286.1L377.1 285.4L377.2 284.8L375.5 284.8L375.6 284.0L375.6 283.3L375.6 282.5ZM334.9 94.7L332.9 94.7L333.3 93.7L333.8 92.7L334.3 91.7L334.8 90.7L335.3 89.7L335.8 88.8L336.3 87.8L336.9 86.9L338.8 86.9L339.3 86.0L339.8 85.1L348.8 85.1L348.4 86.0L348.0 86.9L349.9 86.9L349.5 87.8L349.2 88.8L348.8 89.7L348.5 90.7L346.5 90.7L346.2 91.7L345.9 92.7L343.8 92.7L343.5 93.7L343.2 94.7L341.1 94.7L340.7 95.8L340.4 96.8L336.2 96.8L335.8 97.9L335.4 98.9L333.3 98.9L333.7 97.9L334.1 96.8L334.5 95.8Z" fill="#d62a2a"/>
<path d="M318.3 263.5L316.0 263.5L315.5 262.4L315.0 261.3L321.8 261.3L322.3 262.4L322.7 263.5L320.5 263.5L321.0 264.6L321.5 265.7L319.3 265.7L318.8 264.6ZM328.1 101.1L325.9 101.1L326.3 100.0L326.8 98.9L329.0 98.9L328.5 100.0ZM330.8 94.7L330.3 95.8L329.9 96.8L327.8 96.8L328.3 95.8L328.8 94.7ZM320.5 88.8L318.6 88.8L319.4 87.8L320.2 86.9L322.1 86.9L321.3 87.8ZM325.5 85.1L323.7 85.1L324.4 84.3L325.2 83.5L326.9 83.5L326.2 84.3ZM338.5 82.0L337.9 82.8L337.4 83.5L332.2 83.5L332.8 82.8L333.4 82.0ZM341.2 101.1L339.0 101.1L339.4 100.0L339.7 98.9L341.9 98.9L341.5 100.0ZM355.5 94.7L355.7 93.7L355.9 92.7L356.1 91.7L356.3 90.7L358.3 90.7L358.1 91.7L357.9 92.7L357.7 93.7L357.6 94.7ZM362.5 88.8L360.6 88.8L360.8 87.8L361.0 86.9L362.8 86.9L362.7 87.8ZM360.0 83.5L358.2 83.5L358.5 82.8L358.7 82.0L360.4 82.0L360.2 82.8ZM366.9 83.5L365.2 83.5L365.3 82.8L365.4 82.0L367.1 82.0L367.0 82.8Z" fill="#18bff8"/>
<path d="M328.1 101.1L330.3 101.1L329.8 102.2L329.4 103.3L327.2 103.3L327.6 102.2ZM327.8 92.7L328.3 91.7L328.9 90.7L330.8 90.7L330.3 91.7L329.8 92.7ZM330.1 88.8L329.5 89.7L328.9 90.7L326.9 90.7L327.5 89.7L328.2 88.8ZM423.9 86.9L424.7 87.8L425.5 88.8L417.8 88.8L417.2 87.8L416.5 86.9ZM442.1 85.1L441.0 84.3L439.9 83.5L443.4 83.5L444.5 84.3L445.7 85.1L449.2 85.1L450.5 86.0L451.7 86.9L442.4 86.9L441.4 86.0L440.3 85.1ZM341.8 82.0L341.3 82.8L340.8 83.5L337.4 83.5L337.9 82.8L338.5 82.0Z" fill="#fdbd12"/>
 </g>
 <use href="#land" class="coast"/>
 <use href="#lakes" class="coast"/>
 <use href="#antc" class="coast"/>
 <use href="#frame" class="frame"/>
</g>
<!-- panel 2 -->
<g transform="translate(0,250.8)">
 <g clip-path="url(#cf)" shape-rendering="crispEdges">
  <path d="M197.2 156.3L200.0 156.3L199.8 157.5L199.5 158.7L196.7 158.7L196.9 157.5ZM246.5 148.9L243.7 148.9L244.1 147.6L244.4 146.4L244.7 145.2L245.1 143.9L242.4 143.9L242.8 142.7L243.2 141.5L243.7 140.2L244.1 139.0L241.4 139.0L241.9 137.8L242.4 136.5L239.8 136.5L240.3 135.3L240.9 134.1L238.2 134.1L238.8 132.8L239.4 131.6L240.1 130.4L240.7 129.2L241.4 127.9L242.1 126.7L242.9 125.5L243.6 124.3L244.3 123.1L245.1 121.9L245.9 120.7L246.7 119.5L244.2 119.5L245.0 118.3L245.9 117.1L246.8 115.9L247.7 114.7L245.3 114.7L244.4 115.9L243.4 117.1L241.0 117.1L241.9 115.9L242.9 114.7L243.8 113.6L244.9 112.4L245.9 111.2L246.9 110.1L242.2 110.1L243.3 108.9L244.4 107.8L230.5 107.8L229.3 108.9L228.1 110.1L225.7 110.1L224.5 111.2L223.3 112.4L220.9 112.4L222.1 111.2L223.3 110.1L224.6 108.9L225.9 107.8L227.2 106.6L228.5 105.5L229.8 104.4L231.1 103.3L232.5 102.2L233.8 101.1L235.2 100.0L236.6 98.9L238.0 97.9L239.4 96.8L240.9 95.8L242.3 94.7L243.8 93.7L245.3 92.7L257.4 92.7L256.0 93.7L254.7 94.7L265.0 94.7L266.2 93.7L267.4 92.7L271.5 92.7L272.7 91.7L274.0 90.7L275.3 89.7L276.7 88.8L278.1 87.8L279.5 86.9L281.0 86.0L282.4 85.1L286.0 85.1L287.4 84.3L288.7 83.5L299.1 83.5L300.3 82.8L301.4 82.0L345.2 82.0L344.8 82.8L344.3 83.5L343.9 84.3L343.4 85.1L342.9 86.0L342.5 86.9L342.0 87.8L341.5 88.8L341.1 89.7L340.6 90.7L340.2 91.7L339.8 92.7L339.4 93.7L339.0 94.7L338.7 95.8L338.3 96.8L337.9 97.9L337.6 98.9L337.2 100.0L336.8 101.1L336.5 102.2L336.1 103.3L335.8 104.4L335.4 105.5L335.1 106.6L334.8 107.8L330.1 107.8L330.5 106.6L330.9 105.5L326.3 105.5L326.8 104.4L327.2 103.3L327.6 102.2L328.1 101.1L325.9 101.1L326.3 100.0L326.8 98.9L327.3 97.9L327.8 96.8L328.3 95.8L328.8 94.7L326.7 94.7L327.2 93.7L327.8 92.7L328.3 91.7L328.9 90.7L325.0 90.7L325.6 89.7L326.3 88.8L312.9 88.8L312.1 89.7L311.2 90.7L315.2 90.7L314.4 91.7L313.7 92.7L321.7 92.7L321.1 93.7L320.5 94.7L319.9 95.8L319.4 96.8L321.5 96.8L320.9 97.9L320.4 98.9L319.8 100.0L319.3 101.1L317.1 101.1L316.6 102.2L316.0 103.3L315.5 104.4L315.0 105.5L317.2 105.5L316.7 106.6L316.2 107.8L315.7 108.9L315.3 110.1L317.6 110.1L317.2 111.2L316.7 112.4L319.1 112.4L318.7 113.6L318.3 114.7L320.7 114.7L320.3 115.9L319.9 117.1L319.6 118.3L319.2 119.5L321.7 119.5L321.4 120.7L321.1 121.9L320.8 123.1L320.5 124.3L315.3 124.3L315.7 123.1L316.0 121.9L313.5 121.9L313.1 123.1L312.8 124.3L312.4 125.5L312.1 126.7L301.7 126.7L301.4 127.9L301.0 129.2L300.6 130.4L300.3 131.6L295.0 131.6L294.6 132.8L294.2 134.1L293.9 135.3L293.6 136.5L293.3 137.8L293.0 139.0L290.3 139.0L290.0 140.2L289.7 141.5L286.9 141.5L286.7 142.7L286.4 143.9L286.1 145.2L285.9 146.4L285.6 147.6L285.4 148.9L285.2 150.1L285.0 151.3L284.9 152.6L284.7 153.8L290.3 153.8L290.2 155.0L290.0 156.3L295.7 156.3L295.5 157.5L295.4 158.7L298.2 158.7L298.1 160.0L298.0 161.2L286.7 161.2L286.8 160.0L286.9 158.7L284.1 158.7L284.3 157.5L284.4 156.3L276.0 156.3L275.8 157.5L275.7 158.7L275.5 160.0L275.4 161.2L281.0 161.2L280.9 162.4L280.8 163.7L280.6 164.9L280.5 166.1L280.4 167.4L280.4 168.6L280.3 169.8L280.2 171.1L285.9 171.1L286.0 169.8L286.1 168.6L288.9 168.6L289.0 167.4L289.1 166.1L294.8 166.1L294.7 167.4L294.6 168.6L306.0 168.6L306.0 169.8L305.9 171.1L305.8 172.3L305.8 173.5L311.5 173.5L311.5 174.8L311.5 176.0L317.2 176.0L317.2 177.2L317.1 178.5L317.1 179.7L317.1 180.9L317.1 182.2L317.1 183.4L279.8 183.4L279.8 182.2L279.8 180.9L282.7 180.9L282.7 179.7L282.8 178.5L282.8 177.2L282.8 176.0L280.0 176.0L280.0 174.8L280.1 173.5L274.4 173.5L274.4 172.3L274.5 171.1L274.6 169.8L274.7 168.6L271.8 168.6L271.9 167.4L272.0 166.1L266.3 166.1L266.4 164.9L266.6 163.7L258.1 163.7L258.2 162.4L258.4 161.2L252.7 161.2L252.9 160.0L253.1 158.7L253.3 157.5L253.5 156.3L253.7 155.0L253.9 153.8L245.5 153.8L245.7 152.6L246.0 151.3L246.2 150.1ZM266.0 148.9L265.7 150.1L265.5 151.3L265.3 152.6L265.1 153.8L264.9 155.0L264.7 156.3L267.5 156.3L267.4 157.5L267.2 158.7L270.0 158.7L270.2 157.5L270.4 156.3L270.5 155.0L270.7 153.8L279.1 153.8L279.3 152.6L279.5 151.3L279.7 150.1L279.9 148.9L280.1 147.6L280.3 146.4L266.5 146.4L266.2 147.6ZM291.4 103.3L290.7 104.4L289.9 105.5L287.6 105.5L286.9 106.6L286.1 107.8L290.7 107.8L290.0 108.9L289.3 110.1L296.4 110.1L295.8 111.2L295.2 112.4L297.5 112.4L298.2 111.2L298.8 110.1L299.4 108.9L300.0 107.8L300.7 106.6L301.3 105.5L302.0 104.4L302.6 103.3ZM308.4 121.9L311.0 121.9L311.3 120.7L311.7 119.5L309.2 119.5L308.8 120.7Z" fill="#3a72e8"/>
 </g>
 <use href="#land" class="coast"/>
 <use href="#lakes" class="coast"/>
 <use href="#antc" class="coast"/>
 <use href="#frame" class="frame"/>
</g>
<!-- panel 3 -->
<g transform="translate(0,502.27) scale(1,0.9965)">
 <g clip-path="url(#cf)" shape-rendering="crispEdges">
  <path d="M197.2 156.3L200.0 156.3L199.8 157.5L199.5 158.7L196.7 158.7L196.9 157.5ZM245.1 143.9L242.4 143.9L242.8 142.7L243.2 141.5L248.7 141.5L248.3 142.7L247.9 143.9L250.6 143.9L250.3 145.2L249.9 146.4L252.7 146.4L252.4 147.6L252.1 148.9L251.8 150.1L251.5 151.3L254.3 151.3L254.1 152.6L253.9 153.8L245.5 153.8L245.7 152.6L246.0 151.3L246.2 150.1L246.5 148.9L243.7 148.9L244.1 147.6L244.4 146.4L244.7 145.2ZM242.4 136.5L245.1 136.5L244.6 137.8L244.1 139.0L241.4 139.0L241.9 137.8ZM242.4 136.5L239.8 136.5L240.3 135.3L240.9 134.1L243.5 134.1L243.0 135.3ZM242.1 131.6L241.4 132.8L240.9 134.1L238.2 134.1L238.8 132.8L239.4 131.6ZM249.2 119.5L250.0 118.3L250.8 117.1L253.3 117.1L252.5 118.3L251.7 119.5L254.2 119.5L253.4 120.7L252.7 121.9L250.2 121.9L249.4 123.1L248.7 124.3L246.2 124.3L246.9 123.1L247.6 121.9L248.4 120.7ZM244.9 112.4L247.2 112.4L246.3 113.6L245.3 114.7L244.4 115.9L243.4 117.1L241.0 117.1L241.9 115.9L242.9 114.7L243.8 113.6ZM258.3 107.8L257.3 108.9L256.3 110.1L263.4 110.1L262.5 111.2L261.6 112.4L260.7 113.6L259.9 114.7L252.6 114.7L251.7 115.9L250.8 117.1L245.9 117.1L246.8 115.9L247.7 114.7L248.7 113.6L249.6 112.4L250.6 111.2L251.6 110.1L252.6 108.9L253.7 107.8ZM228.5 105.5L229.8 104.4L231.1 103.3L232.5 102.2L233.8 101.1L235.2 100.0L236.6 98.9L238.0 97.9L239.4 96.8L240.9 95.8L242.3 94.7L243.8 93.7L245.3 92.7L257.4 92.7L256.0 93.7L254.7 94.7L265.0 94.7L266.2 93.7L267.4 92.7L271.5 92.7L272.7 91.7L274.0 90.7L275.3 89.7L276.7 88.8L278.1 87.8L279.5 86.9L301.7 86.9L300.6 87.8L299.6 88.8L298.5 89.7L297.5 90.7L315.2 90.7L314.4 91.7L313.7 92.7L321.7 92.7L321.1 93.7L320.5 94.7L319.9 95.8L319.4 96.8L321.5 96.8L320.9 97.9L320.4 98.9L319.8 100.0L319.3 101.1L317.1 101.1L316.6 102.2L316.0 103.3L315.5 104.4L315.0 105.5L317.2 105.5L316.7 106.6L316.2 107.8L315.7 108.9L315.3 110.1L317.6 110.1L317.2 111.2L316.7 112.4L319.1 112.4L318.7 113.6L318.3 114.7L320.7 114.7L320.3 115.9L319.9 117.1L319.6 118.3L319.2 119.5L316.7 119.5L317.1 118.3L317.5 117.1L290.3 117.1L290.9 115.9L291.5 114.7L286.6 114.7L287.3 113.6L288.0 112.4L285.6 112.4L286.3 111.2L287.0 110.1L282.3 110.1L283.0 108.9L283.8 107.8L281.5 107.8L282.3 106.6L283.1 105.5L276.3 105.5L277.1 104.4L278.0 103.3L257.9 103.3L256.9 104.4L255.8 105.5L246.7 105.5L247.8 104.4L249.0 103.3L250.2 102.2L251.4 101.1L242.6 101.1L241.3 102.2L240.1 103.3L238.8 104.4L237.6 105.5L244.4 105.5L243.2 106.6L242.1 107.8L230.5 107.8L229.3 108.9L228.1 110.1L225.7 110.1L224.5 111.2L223.3 112.4L220.9 112.4L222.1 111.2L223.3 110.1L224.6 108.9L225.9 107.8L227.2 106.6ZM289.9 105.5L287.6 105.5L286.9 106.6L286.1 107.8L290.7 107.8L290.0 108.9L289.3 110.1L296.4 110.1L295.8 111.2L295.2 112.4L297.5 112.4L298.2 111.2L298.8 110.1L299.4 108.9L300.0 107.8L300.7 106.6L301.3 105.5L302.0 104.4L302.6 103.3L291.4 103.3L290.7 104.4ZM266.3 166.1L266.4 164.9L266.6 163.7L258.1 163.7L258.2 162.4L258.4 161.2L252.7 161.2L252.9 160.0L253.1 158.7L253.3 157.5L253.5 156.3L253.7 155.0L253.9 153.8L256.7 153.8L256.5 155.0L256.3 156.3L261.9 156.3L262.1 155.0L262.3 153.8L262.5 152.6L262.7 151.3L262.9 150.1L263.2 148.9L263.5 147.6L263.7 146.4L266.5 146.4L266.2 147.6L266.0 148.9L265.7 150.1L265.5 151.3L265.3 152.6L265.1 153.8L264.9 155.0L264.7 156.3L267.5 156.3L267.4 157.5L267.2 158.7L270.0 158.7L270.2 157.5L270.4 156.3L270.5 155.0L270.7 153.8L279.1 153.8L279.3 152.6L279.5 151.3L279.7 150.1L279.9 148.9L280.1 147.6L280.3 146.4L283.1 146.4L283.4 145.2L283.6 143.9L286.4 143.9L286.1 145.2L285.9 146.4L285.6 147.6L285.4 148.9L285.2 150.1L285.0 151.3L284.9 152.6L284.7 153.8L290.3 153.8L290.2 155.0L290.0 156.3L295.7 156.3L295.5 157.5L295.4 158.7L298.2 158.7L298.1 160.0L298.0 161.2L286.7 161.2L286.8 160.0L286.9 158.7L284.1 158.7L284.3 157.5L284.4 156.3L276.0 156.3L275.8 157.5L275.7 158.7L275.5 160.0L275.4 161.2L281.0 161.2L280.9 162.4L280.8 163.7L280.6 164.9L280.5 166.1L280.4 167.4L280.4 168.6L280.3 169.8L280.2 171.1L285.9 171.1L286.0 169.8L286.1 168.6L288.9 168.6L289.0 167.4L289.1 166.1L294.8 166.1L294.7 167.4L294.6 168.6L306.0 168.6L306.0 169.8L305.9 171.1L305.8 172.3L305.8 173.5L311.5 173.5L311.5 174.8L311.5 176.0L317.2 176.0L317.2 177.2L317.1 178.5L317.1 179.7L317.1 180.9L317.1 182.2L317.1 183.4L279.8 183.4L279.8 182.2L279.8 180.9L282.7 180.9L282.7 179.7L282.8 178.5L282.8 177.2L282.8 176.0L280.0 176.0L280.0 174.8L280.1 173.5L274.4 173.5L274.4 172.3L274.5 171.1L274.6 169.8L274.7 168.6L271.8 168.6L271.9 167.4L272.0 166.1ZM280.9 143.9L280.6 145.2L280.3 146.4L266.5 146.4L266.8 145.2L267.1 143.9ZM258.9 143.9L258.5 145.2L258.2 146.4L255.5 146.4L255.8 145.2L256.1 143.9ZM287.5 139.0L290.3 139.0L290.0 140.2L289.7 141.5L286.9 141.5L287.2 140.2ZM282.0 124.3L281.5 125.5L281.0 126.7L278.4 126.7L278.9 125.5L279.5 124.3ZM293.6 136.5L293.3 137.8L293.0 139.0L290.3 139.0L290.6 137.8L290.9 136.5L291.2 135.3L291.6 134.1L294.2 134.1L293.9 135.3ZM301.0 129.2L300.6 130.4L300.3 131.6L297.6 131.6L298.0 130.4L298.4 129.2ZM321.1 121.9L320.8 123.1L320.5 124.3L317.9 124.3L318.2 123.1L318.5 121.9L318.9 120.7L319.2 119.5L321.7 119.5L321.4 120.7ZM330.9 105.5L335.4 105.5L335.1 106.6L334.8 107.8L330.1 107.8L330.5 106.6ZM329.4 103.3L329.0 104.4L328.6 105.5L326.3 105.5L326.8 104.4L327.2 103.3ZM327.8 92.7L329.8 92.7L329.3 93.7L328.8 94.7L326.7 94.7L327.2 93.7ZM328.2 88.8L327.5 89.7L326.9 90.7L325.0 90.7L325.6 89.7L326.3 88.8ZM318.6 88.8L314.8 88.8L315.7 87.8L316.5 86.9L318.4 86.9L319.2 86.0L320.1 85.1L321.9 85.1L321.1 86.0L320.2 86.9L319.4 87.8ZM325.2 83.5L324.4 84.3L323.7 85.1L321.9 85.1L322.7 84.3L323.5 83.5ZM333.4 82.0L332.8 82.8L332.2 83.5L328.7 83.5L329.4 82.8L330.0 82.0Z" fill="#ffec6a"/>
<path d="M252.1 148.9L252.4 147.6L252.7 146.4L249.9 146.4L250.3 145.2L250.6 143.9L247.9 143.9L248.3 142.7L248.7 141.5L243.2 141.5L243.7 140.2L244.1 139.0L244.6 137.8L245.1 136.5L242.4 136.5L243.0 135.3L243.5 134.1L240.9 134.1L241.4 132.8L242.1 131.6L239.4 131.6L240.1 130.4L240.7 129.2L241.4 127.9L242.1 126.7L242.9 125.5L243.6 124.3L244.3 123.1L245.1 121.9L245.9 120.7L246.7 119.5L244.2 119.5L245.0 118.3L245.9 117.1L250.8 117.1L251.7 115.9L252.6 114.7L259.9 114.7L260.7 113.6L261.6 112.4L262.5 111.2L263.4 110.1L256.3 110.1L257.3 108.9L258.3 107.8L253.7 107.8L252.6 108.9L251.6 110.1L250.6 111.2L249.6 112.4L248.7 113.6L247.7 114.7L245.3 114.7L246.3 113.6L247.2 112.4L244.9 112.4L245.9 111.2L246.9 110.1L242.2 110.1L243.3 108.9L244.4 107.8L242.1 107.8L243.2 106.6L244.4 105.5L237.6 105.5L238.8 104.4L240.1 103.3L241.3 102.2L242.6 101.1L251.4 101.1L250.2 102.2L249.0 103.3L247.8 104.4L246.7 105.5L255.8 105.5L256.9 104.4L257.9 103.3L278.0 103.3L277.1 104.4L276.3 105.5L283.1 105.5L282.3 106.6L281.5 107.8L283.8 107.8L283.0 108.9L282.3 110.1L287.0 110.1L286.3 111.2L285.6 112.4L288.0 112.4L287.3 113.6L286.6 114.7L291.5 114.7L290.9 115.9L290.3 117.1L317.5 117.1L317.1 118.3L316.7 119.5L319.2 119.5L318.9 120.7L318.5 121.9L318.2 123.1L317.9 124.3L315.3 124.3L315.7 123.1L316.0 121.9L313.5 121.9L313.1 123.1L312.8 124.3L312.4 125.5L312.1 126.7L301.7 126.7L301.4 127.9L301.0 129.2L298.4 129.2L298.0 130.4L297.6 131.6L295.0 131.6L294.6 132.8L294.2 134.1L291.6 134.1L291.2 135.3L290.9 136.5L290.6 137.8L290.3 139.0L287.5 139.0L287.2 140.2L286.9 141.5L286.7 142.7L286.4 143.9L283.6 143.9L283.4 145.2L283.1 146.4L280.3 146.4L280.6 145.2L280.9 143.9L267.1 143.9L266.8 145.2L266.5 146.4L263.7 146.4L263.5 147.6L263.2 148.9L262.9 150.1L262.7 151.3L262.5 152.6L262.3 153.8L262.1 155.0L261.9 156.3L256.3 156.3L256.5 155.0L256.7 153.8L253.9 153.8L254.1 152.6L254.3 151.3L251.5 151.3L251.8 150.1ZM249.2 119.5L248.4 120.7L247.6 121.9L246.9 123.1L246.2 124.3L248.7 124.3L249.4 123.1L250.2 121.9L252.7 121.9L253.4 120.7L254.2 119.5L251.7 119.5L252.5 118.3L253.3 117.1L250.8 117.1L250.0 118.3ZM255.5 146.4L258.2 146.4L258.5 145.2L258.9 143.9L256.1 143.9L255.8 145.2ZM278.4 126.7L281.0 126.7L281.5 125.5L282.0 124.3L279.5 124.3L278.9 125.5ZM309.2 119.5L308.8 120.7L308.4 121.9L311.0 121.9L311.3 120.7L311.7 119.5Z" fill="#96d2f0"/>
<path d="M297.5 90.7L298.5 89.7L299.6 88.8L300.6 87.8L301.7 86.9L279.5 86.9L281.0 86.0L282.4 85.1L286.0 85.1L287.4 84.3L288.7 83.5L299.1 83.5L300.3 82.8L301.4 82.0L330.0 82.0L329.4 82.8L328.7 83.5L323.5 83.5L322.7 84.3L321.9 85.1L320.1 85.1L319.2 86.0L318.4 86.9L316.5 86.9L315.7 87.8L314.8 88.8L312.9 88.8L312.1 89.7L311.2 90.7Z" fill="#ff1a00"/>
<path d="M329.9 96.8L330.3 95.8L330.8 94.7L328.8 94.7L329.3 93.7L329.8 92.7L327.8 92.7L328.3 91.7L328.9 90.7L329.5 89.7L330.1 88.8L320.5 88.8L321.3 87.8L322.1 86.9L320.2 86.9L321.1 86.0L321.9 85.1L325.5 85.1L326.2 84.3L326.9 83.5L339.1 83.5L339.6 82.8L340.2 82.0L345.2 82.0L344.8 82.8L344.3 83.5L343.9 84.3L343.4 85.1L342.9 86.0L342.5 86.9L342.0 87.8L341.5 88.8L341.1 89.7L340.6 90.7L340.2 91.7L339.8 92.7L339.4 93.7L339.0 94.7L338.7 95.8L338.3 96.8L337.9 97.9L337.6 98.9L337.2 100.0L336.8 101.1L336.5 102.2L336.1 103.3L335.8 104.4L335.4 105.5L328.6 105.5L329.0 104.4L329.4 103.3L327.2 103.3L327.6 102.2L328.1 101.1L328.5 100.0L329.0 98.9L326.8 98.9L327.3 97.9L327.8 96.8Z" fill="#d62a2a"/>
<path d="M326.8 98.9L329.0 98.9L328.5 100.0L328.1 101.1L325.9 101.1L326.3 100.0ZM330.8 94.7L330.3 95.8L329.9 96.8L327.8 96.8L328.3 95.8L328.8 94.7ZM330.1 88.8L329.5 89.7L328.9 90.7L326.9 90.7L327.5 89.7L328.2 88.8ZM320.2 86.9L322.1 86.9L321.3 87.8L320.5 88.8L318.6 88.8L319.4 87.8ZM326.9 83.5L326.2 84.3L325.5 85.1L323.7 85.1L324.4 84.3L325.2 83.5ZM340.2 82.0L339.6 82.8L339.1 83.5L332.2 83.5L332.8 82.8L333.4 82.0Z" fill="#ff9f00"/>
 </g>
 <use href="#land" class="coast"/>
 <use href="#lakes" class="coast"/>
 <use href="#antc" class="coast"/>
 <use href="#frame" class="frame"/>
</g>
<rect x="602.3" y="75.50" width="14.2" height="31.16" fill="#d62a2a"/>
<rect x="602.3" y="106.36" width="14.2" height="31.16" fill="#ff3d00"/>
<rect x="602.3" y="137.21" width="14.2" height="31.16" fill="#fdbd12"/>
<rect x="602.3" y="168.07" width="14.2" height="31.16" fill="#cfe8f7"/>
<rect x="602.3" y="198.93" width="14.2" height="31.16" fill="#18bff8"/>
<rect x="602.3" y="229.79" width="14.2" height="31.16" fill="#3a72e8"/>
<rect x="602.3" y="260.64" width="14.2" height="31.16" fill="#4012f0"/>
<line x1="602.3" x2="616.5" y1="106.36" y2="106.36" stroke="#000" stroke-width="0.7"/>
<line x1="602.3" x2="616.5" y1="137.21" y2="137.21" stroke="#000" stroke-width="0.7"/>
<line x1="602.3" x2="616.5" y1="168.07" y2="168.07" stroke="#000" stroke-width="0.7"/>
<line x1="602.3" x2="616.5" y1="198.93" y2="198.93" stroke="#000" stroke-width="0.7"/>
<line x1="602.3" x2="616.5" y1="229.79" y2="229.79" stroke="#000" stroke-width="0.7"/>
<line x1="602.3" x2="616.5" y1="260.64" y2="260.64" stroke="#000" stroke-width="0.7"/>
<rect x="602.3" y="75.50" width="14.2" height="216.00" fill="none" stroke="#333" stroke-width="0.6"/>
<text x="638.3" y="111.36" class="cb">10000</text>
<text x="638.3" y="142.21" class="cb">8000</text>
<text x="638.3" y="173.07" class="cb">6000</text>
<text x="638.3" y="203.93" class="cb">4000</text>
<text x="638.3" y="234.79" class="cb">2000</text>
<text x="638.3" y="265.64" class="cb">0</text>
<rect x="602.3" y="326.30" width="14.2" height="31.14" fill="#d62a2a"/>
<rect x="602.3" y="357.14" width="14.2" height="31.14" fill="#ff3d00"/>
<rect x="602.3" y="387.99" width="14.2" height="31.14" fill="#fdbd12"/>
<rect x="602.3" y="418.83" width="14.2" height="31.14" fill="#cfe8f7"/>
<rect x="602.3" y="449.67" width="14.2" height="31.14" fill="#18bff8"/>
<rect x="602.3" y="480.51" width="14.2" height="31.14" fill="#3a72e8"/>
<rect x="602.3" y="511.36" width="14.2" height="31.14" fill="#4012f0"/>
<line x1="602.3" x2="616.5" y1="357.14" y2="357.14" stroke="#000" stroke-width="0.7"/>
<line x1="602.3" x2="616.5" y1="387.99" y2="387.99" stroke="#000" stroke-width="0.7"/>
<line x1="602.3" x2="616.5" y1="418.83" y2="418.83" stroke="#000" stroke-width="0.7"/>
<line x1="602.3" x2="616.5" y1="449.67" y2="449.67" stroke="#000" stroke-width="0.7"/>
<line x1="602.3" x2="616.5" y1="480.51" y2="480.51" stroke="#000" stroke-width="0.7"/>
<line x1="602.3" x2="616.5" y1="511.36" y2="511.36" stroke="#000" stroke-width="0.7"/>
<rect x="602.3" y="326.30" width="14.2" height="215.90" fill="none" stroke="#333" stroke-width="0.6"/>
<text x="638.3" y="362.14" class="cb">10000</text>
<text x="638.3" y="392.99" class="cb">8000</text>
<text x="638.3" y="423.83" class="cb">6000</text>
<text x="638.3" y="454.67" class="cb">4000</text>
<text x="638.3" y="485.51" class="cb">2000</text>
<text x="638.3" y="516.36" class="cb">0</text>
<rect x="602.3" y="577.10" width="14.2" height="27.22" fill="#d62a2a"/>
<rect x="602.3" y="604.02" width="14.2" height="27.22" fill="#ff1a00"/>
<rect x="602.3" y="630.95" width="14.2" height="27.22" fill="#ff9f00"/>
<rect x="602.3" y="657.88" width="14.2" height="27.22" fill="#ffec6a"/>
<rect x="602.3" y="684.80" width="14.2" height="27.22" fill="#96d2f0"/>
<rect x="602.3" y="711.73" width="14.2" height="27.22" fill="#0aaeff"/>
<rect x="602.3" y="738.65" width="14.2" height="27.22" fill="#4169e1"/>
<rect x="602.3" y="765.58" width="14.2" height="27.22" fill="#4012f0"/>
<line x1="602.3" x2="616.5" y1="604.02" y2="604.02" stroke="#000" stroke-width="0.7"/>
<line x1="602.3" x2="616.5" y1="630.95" y2="630.95" stroke="#000" stroke-width="0.7"/>
<line x1="602.3" x2="616.5" y1="657.88" y2="657.88" stroke="#000" stroke-width="0.7"/>
<line x1="602.3" x2="616.5" y1="684.80" y2="684.80" stroke="#000" stroke-width="0.7"/>
<line x1="602.3" x2="616.5" y1="711.73" y2="711.73" stroke="#000" stroke-width="0.7"/>
<line x1="602.3" x2="616.5" y1="738.65" y2="738.65" stroke="#000" stroke-width="0.7"/>
<line x1="602.3" x2="616.5" y1="765.58" y2="765.58" stroke="#000" stroke-width="0.7"/>
<rect x="602.3" y="577.10" width="14.2" height="215.40" fill="none" stroke="#333" stroke-width="0.6"/>
<text x="638.3" y="609.02" class="cb">6000</text>
<text x="638.3" y="635.95" class="cb">4000</text>
<text x="638.3" y="662.88" class="cb">2000</text>
<text x="638.3" y="689.80" class="cb">0</text>
<text x="638.3" y="716.73" class="cb">-2000</text>
<text x="638.3" y="743.65" class="cb">-4000</text>
<text x="638.3" y="770.58" class="cb">-6000</text>
</svg>
</body></html>
